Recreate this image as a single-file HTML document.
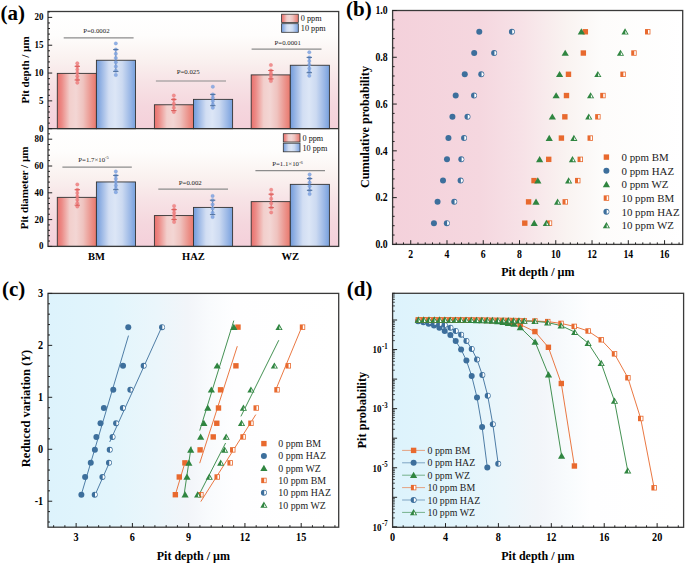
<!DOCTYPE html>
<html><head><meta charset="utf-8"><style>
html,body{margin:0;padding:0;background:#fff;overflow:hidden;width:685px;height:564px;}
svg{display:block;font-family:"Liberation Serif", serif;}
</style></head><body>
<svg width="685" height="564" viewBox="0 0 685 564">
<defs><linearGradient id="gA" x1="0" y1="0" x2="0" y2="1"><stop offset="0" stop-color="#ffffff"/><stop offset="0.2" stop-color="#fefdfc"/><stop offset="0.4" stop-color="#faf2f0"/><stop offset="0.6" stop-color="#f7e3e6"/><stop offset="0.8" stop-color="#f5d7de"/><stop offset="1" stop-color="#f4d0da"/></linearGradient><linearGradient id="gRed" x1="0" y1="0" x2="1" y2="0"><stop offset="0" stop-color="#ea6f6c"/><stop offset="0.12" stop-color="#ec8c88"/><stop offset="0.32" stop-color="#f2cfcc"/><stop offset="0.48" stop-color="#f3d6d4"/><stop offset="0.66" stop-color="#efc3bf"/><stop offset="0.88" stop-color="#eb9088"/><stop offset="1" stop-color="#e9786c"/></linearGradient><linearGradient id="gBlue" x1="0" y1="0" x2="1" y2="0"><stop offset="0" stop-color="#719bdb"/><stop offset="0.12" stop-color="#96b4e4"/><stop offset="0.32" stop-color="#d2def3"/><stop offset="0.48" stop-color="#dce6f6"/><stop offset="0.66" stop-color="#ccdaf1"/><stop offset="0.88" stop-color="#97b5e5"/><stop offset="1" stop-color="#76a0dd"/></linearGradient><linearGradient id="gB" x1="0" y1="0" x2="1" y2="0"><stop offset="0" stop-color="#f4d1db"/><stop offset="0.3" stop-color="#f5d7df"/><stop offset="0.45" stop-color="#f7e2e7"/><stop offset="0.6" stop-color="#f9f3f1"/><stop offset="0.72" stop-color="#fdfcfb"/><stop offset="1" stop-color="#ffffff"/></linearGradient><linearGradient id="gC" x1="0" y1="0" x2="1" y2="0"><stop offset="0" stop-color="#ddf3fc"/><stop offset="0.22" stop-color="#e2f5fc"/><stop offset="0.38" stop-color="#ebf6fb"/><stop offset="0.48" stop-color="#f2f5f9"/><stop offset="0.56" stop-color="#f9fbfd"/><stop offset="0.64" stop-color="#fefeff"/><stop offset="1" stop-color="#ffffff"/></linearGradient><linearGradient id="gD" x1="0" y1="0" x2="1" y2="0"><stop offset="0" stop-color="#ddf3fc"/><stop offset="0.22" stop-color="#e2f5fc"/><stop offset="0.38" stop-color="#ebf6fb"/><stop offset="0.5" stop-color="#f2f5f9"/><stop offset="0.6" stop-color="#f8fbfd"/><stop offset="0.68" stop-color="#fefeff"/><stop offset="1" stop-color="#ffffff"/></linearGradient></defs>
<rect x="48.0" y="11.5" width="290.7" height="117.19999999999999" fill="url(#gA)"/>
<rect x="48.0" y="128.7" width="290.7" height="117.70000000000002" fill="url(#gA)"/>
<rect x="57.30" y="73.38" width="39.10" height="55.32" fill="url(#gRed)" stroke="#333" stroke-width="0.9"/>
<rect x="96.40" y="60.25" width="39.10" height="68.45" fill="url(#gBlue)" stroke="#333" stroke-width="0.9"/>
<rect x="57.30" y="197.36" width="39.10" height="49.04" fill="url(#gRed)" stroke="#333" stroke-width="0.9"/>
<rect x="96.40" y="181.95" width="39.10" height="64.45" fill="url(#gBlue)" stroke="#333" stroke-width="0.9"/>
<rect x="154.40" y="104.77" width="39.10" height="23.93" fill="url(#gRed)" stroke="#333" stroke-width="0.9"/>
<rect x="193.50" y="99.37" width="39.10" height="29.33" fill="url(#gBlue)" stroke="#333" stroke-width="0.9"/>
<rect x="154.40" y="215.58" width="39.10" height="30.82" fill="url(#gRed)" stroke="#333" stroke-width="0.9"/>
<rect x="193.50" y="207.41" width="39.10" height="38.99" fill="url(#gBlue)" stroke="#333" stroke-width="0.9"/>
<rect x="251.20" y="74.89" width="39.10" height="53.81" fill="url(#gRed)" stroke="#333" stroke-width="0.9"/>
<rect x="290.30" y="65.26" width="39.10" height="63.44" fill="url(#gBlue)" stroke="#333" stroke-width="0.9"/>
<rect x="251.20" y="201.64" width="39.10" height="44.76" fill="url(#gRed)" stroke="#333" stroke-width="0.9"/>
<rect x="290.30" y="184.36" width="39.10" height="62.04" fill="url(#gBlue)" stroke="#333" stroke-width="0.9"/>
<line x1="77.30" y1="66.30" x2="77.30" y2="80.00" stroke="#d95b58" stroke-width="0.8" />
<circle cx="77.30" cy="63.30" r="1.75" fill="#ee8080" fill-opacity="0.85" stroke="#e06060" stroke-width="0.35" stroke-opacity="0.6"/>
<circle cx="77.30" cy="66.30" r="1.75" fill="#ee8080" fill-opacity="0.85" stroke="#e06060" stroke-width="0.35" stroke-opacity="0.6"/>
<circle cx="77.30" cy="69.58" r="1.75" fill="#ee8080" fill-opacity="0.85" stroke="#e06060" stroke-width="0.35" stroke-opacity="0.6"/>
<circle cx="77.30" cy="72.86" r="1.75" fill="#ee8080" fill-opacity="0.85" stroke="#e06060" stroke-width="0.35" stroke-opacity="0.6"/>
<circle cx="77.30" cy="76.14" r="1.75" fill="#ee8080" fill-opacity="0.85" stroke="#e06060" stroke-width="0.35" stroke-opacity="0.6"/>
<circle cx="77.30" cy="79.42" r="1.75" fill="#ee8080" fill-opacity="0.85" stroke="#e06060" stroke-width="0.35" stroke-opacity="0.6"/>
<circle cx="77.30" cy="82.70" r="1.75" fill="#ee8080" fill-opacity="0.85" stroke="#e06060" stroke-width="0.35" stroke-opacity="0.6"/>
<line x1="74.60" y1="66.30" x2="80.00" y2="66.30" stroke="#d95b58" stroke-width="1.0" />
<line x1="74.60" y1="80.00" x2="80.00" y2="80.00" stroke="#d95b58" stroke-width="1.0" />
<line x1="115.80" y1="49.60" x2="115.80" y2="71.40" stroke="#4f709c" stroke-width="0.8" />
<circle cx="115.80" cy="43.40" r="1.75" fill="#7fa3e2" fill-opacity="0.85" stroke="#5a86cc" stroke-width="0.35" stroke-opacity="0.6"/>
<circle cx="115.80" cy="49.60" r="1.75" fill="#7fa3e2" fill-opacity="0.85" stroke="#5a86cc" stroke-width="0.35" stroke-opacity="0.6"/>
<circle cx="115.80" cy="53.83" r="1.75" fill="#7fa3e2" fill-opacity="0.85" stroke="#5a86cc" stroke-width="0.35" stroke-opacity="0.6"/>
<circle cx="115.80" cy="58.07" r="1.75" fill="#7fa3e2" fill-opacity="0.85" stroke="#5a86cc" stroke-width="0.35" stroke-opacity="0.6"/>
<circle cx="115.80" cy="62.30" r="1.75" fill="#7fa3e2" fill-opacity="0.85" stroke="#5a86cc" stroke-width="0.35" stroke-opacity="0.6"/>
<circle cx="115.80" cy="66.53" r="1.75" fill="#7fa3e2" fill-opacity="0.85" stroke="#5a86cc" stroke-width="0.35" stroke-opacity="0.6"/>
<circle cx="115.80" cy="70.77" r="1.75" fill="#7fa3e2" fill-opacity="0.85" stroke="#5a86cc" stroke-width="0.35" stroke-opacity="0.6"/>
<circle cx="115.80" cy="75.00" r="1.75" fill="#7fa3e2" fill-opacity="0.85" stroke="#5a86cc" stroke-width="0.35" stroke-opacity="0.6"/>
<line x1="113.10" y1="49.60" x2="118.50" y2="49.60" stroke="#4f709c" stroke-width="1.0" />
<line x1="113.10" y1="71.40" x2="118.50" y2="71.40" stroke="#4f709c" stroke-width="1.0" />
<line x1="173.80" y1="99.40" x2="173.80" y2="110.60" stroke="#d95b58" stroke-width="0.8" />
<circle cx="173.80" cy="95.50" r="1.75" fill="#ee8080" fill-opacity="0.85" stroke="#e06060" stroke-width="0.35" stroke-opacity="0.6"/>
<circle cx="173.80" cy="99.60" r="1.75" fill="#ee8080" fill-opacity="0.85" stroke="#e06060" stroke-width="0.35" stroke-opacity="0.6"/>
<circle cx="173.80" cy="103.70" r="1.75" fill="#ee8080" fill-opacity="0.85" stroke="#e06060" stroke-width="0.35" stroke-opacity="0.6"/>
<circle cx="173.80" cy="107.80" r="1.75" fill="#ee8080" fill-opacity="0.85" stroke="#e06060" stroke-width="0.35" stroke-opacity="0.6"/>
<circle cx="173.80" cy="111.90" r="1.75" fill="#ee8080" fill-opacity="0.85" stroke="#e06060" stroke-width="0.35" stroke-opacity="0.6"/>
<line x1="171.10" y1="99.40" x2="176.50" y2="99.40" stroke="#d95b58" stroke-width="1.0" />
<line x1="171.10" y1="110.60" x2="176.50" y2="110.60" stroke="#d95b58" stroke-width="1.0" />
<line x1="212.80" y1="94.40" x2="212.80" y2="105.70" stroke="#4f709c" stroke-width="0.8" />
<circle cx="212.80" cy="86.70" r="1.75" fill="#7fa3e2" fill-opacity="0.85" stroke="#5a86cc" stroke-width="0.35" stroke-opacity="0.6"/>
<circle cx="212.80" cy="94.40" r="1.75" fill="#7fa3e2" fill-opacity="0.85" stroke="#5a86cc" stroke-width="0.35" stroke-opacity="0.6"/>
<circle cx="212.80" cy="97.75" r="1.75" fill="#7fa3e2" fill-opacity="0.85" stroke="#5a86cc" stroke-width="0.35" stroke-opacity="0.6"/>
<circle cx="212.80" cy="101.10" r="1.75" fill="#7fa3e2" fill-opacity="0.85" stroke="#5a86cc" stroke-width="0.35" stroke-opacity="0.6"/>
<circle cx="212.80" cy="104.45" r="1.75" fill="#7fa3e2" fill-opacity="0.85" stroke="#5a86cc" stroke-width="0.35" stroke-opacity="0.6"/>
<circle cx="212.80" cy="107.80" r="1.75" fill="#7fa3e2" fill-opacity="0.85" stroke="#5a86cc" stroke-width="0.35" stroke-opacity="0.6"/>
<line x1="210.10" y1="94.40" x2="215.50" y2="94.40" stroke="#4f709c" stroke-width="1.0" />
<line x1="210.10" y1="105.70" x2="215.50" y2="105.70" stroke="#4f709c" stroke-width="1.0" />
<line x1="270.90" y1="70.50" x2="270.90" y2="78.90" stroke="#d95b58" stroke-width="0.8" />
<circle cx="270.90" cy="65.10" r="1.75" fill="#ee8080" fill-opacity="0.85" stroke="#e06060" stroke-width="0.35" stroke-opacity="0.6"/>
<circle cx="270.90" cy="70.50" r="1.75" fill="#ee8080" fill-opacity="0.85" stroke="#e06060" stroke-width="0.35" stroke-opacity="0.6"/>
<circle cx="270.90" cy="73.15" r="1.75" fill="#ee8080" fill-opacity="0.85" stroke="#e06060" stroke-width="0.35" stroke-opacity="0.6"/>
<circle cx="270.90" cy="75.80" r="1.75" fill="#ee8080" fill-opacity="0.85" stroke="#e06060" stroke-width="0.35" stroke-opacity="0.6"/>
<circle cx="270.90" cy="78.45" r="1.75" fill="#ee8080" fill-opacity="0.85" stroke="#e06060" stroke-width="0.35" stroke-opacity="0.6"/>
<circle cx="270.90" cy="81.10" r="1.75" fill="#ee8080" fill-opacity="0.85" stroke="#e06060" stroke-width="0.35" stroke-opacity="0.6"/>
<line x1="268.20" y1="70.50" x2="273.60" y2="70.50" stroke="#d95b58" stroke-width="1.0" />
<line x1="268.20" y1="78.90" x2="273.60" y2="78.90" stroke="#d95b58" stroke-width="1.0" />
<line x1="309.30" y1="57.40" x2="309.30" y2="72.70" stroke="#4f709c" stroke-width="0.8" />
<circle cx="309.30" cy="52.30" r="1.75" fill="#7fa3e2" fill-opacity="0.85" stroke="#5a86cc" stroke-width="0.35" stroke-opacity="0.6"/>
<circle cx="309.30" cy="57.40" r="1.75" fill="#7fa3e2" fill-opacity="0.85" stroke="#5a86cc" stroke-width="0.35" stroke-opacity="0.6"/>
<circle cx="309.30" cy="61.08" r="1.75" fill="#7fa3e2" fill-opacity="0.85" stroke="#5a86cc" stroke-width="0.35" stroke-opacity="0.6"/>
<circle cx="309.30" cy="64.76" r="1.75" fill="#7fa3e2" fill-opacity="0.85" stroke="#5a86cc" stroke-width="0.35" stroke-opacity="0.6"/>
<circle cx="309.30" cy="68.44" r="1.75" fill="#7fa3e2" fill-opacity="0.85" stroke="#5a86cc" stroke-width="0.35" stroke-opacity="0.6"/>
<circle cx="309.30" cy="72.12" r="1.75" fill="#7fa3e2" fill-opacity="0.85" stroke="#5a86cc" stroke-width="0.35" stroke-opacity="0.6"/>
<circle cx="309.30" cy="75.80" r="1.75" fill="#7fa3e2" fill-opacity="0.85" stroke="#5a86cc" stroke-width="0.35" stroke-opacity="0.6"/>
<line x1="306.60" y1="57.40" x2="312.00" y2="57.40" stroke="#4f709c" stroke-width="1.0" />
<line x1="306.60" y1="72.70" x2="312.00" y2="72.70" stroke="#4f709c" stroke-width="1.0" />
<line x1="77.30" y1="189.70" x2="77.30" y2="205.20" stroke="#d95b58" stroke-width="0.8" />
<circle cx="77.30" cy="184.40" r="1.75" fill="#ee8080" fill-opacity="0.85" stroke="#e06060" stroke-width="0.35" stroke-opacity="0.6"/>
<circle cx="77.30" cy="189.70" r="1.75" fill="#ee8080" fill-opacity="0.85" stroke="#e06060" stroke-width="0.35" stroke-opacity="0.6"/>
<circle cx="77.30" cy="193.06" r="1.75" fill="#ee8080" fill-opacity="0.85" stroke="#e06060" stroke-width="0.35" stroke-opacity="0.6"/>
<circle cx="77.30" cy="196.42" r="1.75" fill="#ee8080" fill-opacity="0.85" stroke="#e06060" stroke-width="0.35" stroke-opacity="0.6"/>
<circle cx="77.30" cy="199.78" r="1.75" fill="#ee8080" fill-opacity="0.85" stroke="#e06060" stroke-width="0.35" stroke-opacity="0.6"/>
<circle cx="77.30" cy="203.14" r="1.75" fill="#ee8080" fill-opacity="0.85" stroke="#e06060" stroke-width="0.35" stroke-opacity="0.6"/>
<circle cx="77.30" cy="206.50" r="1.75" fill="#ee8080" fill-opacity="0.85" stroke="#e06060" stroke-width="0.35" stroke-opacity="0.6"/>
<line x1="74.60" y1="189.70" x2="80.00" y2="189.70" stroke="#d95b58" stroke-width="1.0" />
<line x1="74.60" y1="205.20" x2="80.00" y2="205.20" stroke="#d95b58" stroke-width="1.0" />
<line x1="115.80" y1="175.40" x2="115.80" y2="189.70" stroke="#4f709c" stroke-width="0.8" />
<circle cx="115.80" cy="171.40" r="1.75" fill="#7fa3e2" fill-opacity="0.85" stroke="#5a86cc" stroke-width="0.35" stroke-opacity="0.6"/>
<circle cx="115.80" cy="175.40" r="1.75" fill="#7fa3e2" fill-opacity="0.85" stroke="#5a86cc" stroke-width="0.35" stroke-opacity="0.6"/>
<circle cx="115.80" cy="178.76" r="1.75" fill="#7fa3e2" fill-opacity="0.85" stroke="#5a86cc" stroke-width="0.35" stroke-opacity="0.6"/>
<circle cx="115.80" cy="182.12" r="1.75" fill="#7fa3e2" fill-opacity="0.85" stroke="#5a86cc" stroke-width="0.35" stroke-opacity="0.6"/>
<circle cx="115.80" cy="185.48" r="1.75" fill="#7fa3e2" fill-opacity="0.85" stroke="#5a86cc" stroke-width="0.35" stroke-opacity="0.6"/>
<circle cx="115.80" cy="188.84" r="1.75" fill="#7fa3e2" fill-opacity="0.85" stroke="#5a86cc" stroke-width="0.35" stroke-opacity="0.6"/>
<circle cx="115.80" cy="192.20" r="1.75" fill="#7fa3e2" fill-opacity="0.85" stroke="#5a86cc" stroke-width="0.35" stroke-opacity="0.6"/>
<line x1="113.10" y1="175.40" x2="118.50" y2="175.40" stroke="#4f709c" stroke-width="1.0" />
<line x1="113.10" y1="189.70" x2="118.50" y2="189.70" stroke="#4f709c" stroke-width="1.0" />
<line x1="174.10" y1="209.60" x2="174.10" y2="219.60" stroke="#d95b58" stroke-width="0.8" />
<circle cx="174.10" cy="205.90" r="1.75" fill="#ee8080" fill-opacity="0.85" stroke="#e06060" stroke-width="0.35" stroke-opacity="0.6"/>
<circle cx="174.10" cy="209.60" r="1.75" fill="#ee8080" fill-opacity="0.85" stroke="#e06060" stroke-width="0.35" stroke-opacity="0.6"/>
<circle cx="174.10" cy="212.70" r="1.75" fill="#ee8080" fill-opacity="0.85" stroke="#e06060" stroke-width="0.35" stroke-opacity="0.6"/>
<circle cx="174.10" cy="215.80" r="1.75" fill="#ee8080" fill-opacity="0.85" stroke="#e06060" stroke-width="0.35" stroke-opacity="0.6"/>
<circle cx="174.10" cy="218.90" r="1.75" fill="#ee8080" fill-opacity="0.85" stroke="#e06060" stroke-width="0.35" stroke-opacity="0.6"/>
<circle cx="174.10" cy="222.00" r="1.75" fill="#ee8080" fill-opacity="0.85" stroke="#e06060" stroke-width="0.35" stroke-opacity="0.6"/>
<line x1="171.40" y1="209.60" x2="176.80" y2="209.60" stroke="#d95b58" stroke-width="1.0" />
<line x1="171.40" y1="219.60" x2="176.80" y2="219.60" stroke="#d95b58" stroke-width="1.0" />
<line x1="212.60" y1="200.20" x2="212.60" y2="214.60" stroke="#4f709c" stroke-width="0.8" />
<circle cx="212.60" cy="196.00" r="1.75" fill="#7fa3e2" fill-opacity="0.85" stroke="#5a86cc" stroke-width="0.35" stroke-opacity="0.6"/>
<circle cx="212.60" cy="200.20" r="1.75" fill="#7fa3e2" fill-opacity="0.85" stroke="#5a86cc" stroke-width="0.35" stroke-opacity="0.6"/>
<circle cx="212.60" cy="204.40" r="1.75" fill="#7fa3e2" fill-opacity="0.85" stroke="#5a86cc" stroke-width="0.35" stroke-opacity="0.6"/>
<circle cx="212.60" cy="208.60" r="1.75" fill="#7fa3e2" fill-opacity="0.85" stroke="#5a86cc" stroke-width="0.35" stroke-opacity="0.6"/>
<circle cx="212.60" cy="212.80" r="1.75" fill="#7fa3e2" fill-opacity="0.85" stroke="#5a86cc" stroke-width="0.35" stroke-opacity="0.6"/>
<circle cx="212.60" cy="217.00" r="1.75" fill="#7fa3e2" fill-opacity="0.85" stroke="#5a86cc" stroke-width="0.35" stroke-opacity="0.6"/>
<line x1="209.90" y1="200.20" x2="215.30" y2="200.20" stroke="#4f709c" stroke-width="1.0" />
<line x1="209.90" y1="214.60" x2="215.30" y2="214.60" stroke="#4f709c" stroke-width="1.0" />
<line x1="271.20" y1="194.20" x2="271.20" y2="207.60" stroke="#d95b58" stroke-width="0.8" />
<circle cx="271.20" cy="189.80" r="1.75" fill="#ee8080" fill-opacity="0.85" stroke="#e06060" stroke-width="0.35" stroke-opacity="0.6"/>
<circle cx="271.20" cy="194.20" r="1.75" fill="#ee8080" fill-opacity="0.85" stroke="#e06060" stroke-width="0.35" stroke-opacity="0.6"/>
<circle cx="271.20" cy="198.75" r="1.75" fill="#ee8080" fill-opacity="0.85" stroke="#e06060" stroke-width="0.35" stroke-opacity="0.6"/>
<circle cx="271.20" cy="203.30" r="1.75" fill="#ee8080" fill-opacity="0.85" stroke="#e06060" stroke-width="0.35" stroke-opacity="0.6"/>
<circle cx="271.20" cy="207.85" r="1.75" fill="#ee8080" fill-opacity="0.85" stroke="#e06060" stroke-width="0.35" stroke-opacity="0.6"/>
<circle cx="271.20" cy="212.40" r="1.75" fill="#ee8080" fill-opacity="0.85" stroke="#e06060" stroke-width="0.35" stroke-opacity="0.6"/>
<line x1="268.50" y1="194.20" x2="273.90" y2="194.20" stroke="#d95b58" stroke-width="1.0" />
<line x1="268.50" y1="207.60" x2="273.90" y2="207.60" stroke="#d95b58" stroke-width="1.0" />
<line x1="309.60" y1="178.60" x2="309.60" y2="190.30" stroke="#4f709c" stroke-width="0.8" />
<circle cx="309.60" cy="174.40" r="1.75" fill="#7fa3e2" fill-opacity="0.85" stroke="#5a86cc" stroke-width="0.35" stroke-opacity="0.6"/>
<circle cx="309.60" cy="178.60" r="1.75" fill="#7fa3e2" fill-opacity="0.85" stroke="#5a86cc" stroke-width="0.35" stroke-opacity="0.6"/>
<circle cx="309.60" cy="182.45" r="1.75" fill="#7fa3e2" fill-opacity="0.85" stroke="#5a86cc" stroke-width="0.35" stroke-opacity="0.6"/>
<circle cx="309.60" cy="186.30" r="1.75" fill="#7fa3e2" fill-opacity="0.85" stroke="#5a86cc" stroke-width="0.35" stroke-opacity="0.6"/>
<circle cx="309.60" cy="190.15" r="1.75" fill="#7fa3e2" fill-opacity="0.85" stroke="#5a86cc" stroke-width="0.35" stroke-opacity="0.6"/>
<circle cx="309.60" cy="194.00" r="1.75" fill="#7fa3e2" fill-opacity="0.85" stroke="#5a86cc" stroke-width="0.35" stroke-opacity="0.6"/>
<line x1="306.90" y1="178.60" x2="312.30" y2="178.60" stroke="#4f709c" stroke-width="1.0" />
<line x1="306.90" y1="190.30" x2="312.30" y2="190.30" stroke="#4f709c" stroke-width="1.0" />
<line x1="63.70" y1="37.90" x2="133.60" y2="37.90" stroke="#8c8c8c" stroke-width="1.2" />
<text x="96.40" y="32.50" font-size="6.8" font-weight="normal" text-anchor="middle" fill="#1a1a1a" >P=0.0002</text>
<line x1="155.90" y1="81.00" x2="226.00" y2="81.00" stroke="#8c8c8c" stroke-width="1.2" />
<text x="188.20" y="74.20" font-size="6.8" font-weight="normal" text-anchor="middle" fill="#1a1a1a" >P=0.025</text>
<line x1="251.60" y1="49.20" x2="321.50" y2="49.20" stroke="#8c8c8c" stroke-width="1.2" />
<text x="287.70" y="45.00" font-size="6.8" font-weight="normal" text-anchor="middle" fill="#1a1a1a" >P=0.0001</text>
<line x1="62.40" y1="167.20" x2="131.80" y2="167.20" stroke="#8c8c8c" stroke-width="1.2" />
<text x="93.60" y="161.50" font-size="6.8" font-weight="normal" text-anchor="middle" fill="#1a1a1a" >P=1.7×10<tspan dy="-2.5" font-size="4.5">-5</tspan></text>
<line x1="158.30" y1="189.20" x2="228.00" y2="189.20" stroke="#8c8c8c" stroke-width="1.2" />
<text x="190.30" y="184.50" font-size="6.8" font-weight="normal" text-anchor="middle" fill="#1a1a1a" >P=0.002</text>
<line x1="255.40" y1="170.70" x2="325.00" y2="170.70" stroke="#8c8c8c" stroke-width="1.2" />
<text x="287.50" y="166.00" font-size="6.8" font-weight="normal" text-anchor="middle" fill="#1a1a1a" >P=1.1×10<tspan dy="-2.5" font-size="4.5">-6</tspan></text>
<rect x="281.60" y="14.20" width="16.7" height="8.3" fill="url(#gRed)" stroke="#333" stroke-width="0.8"/>
<rect x="281.60" y="23.70" width="16.7" height="8.6" fill="url(#gBlue)" stroke="#333" stroke-width="0.8"/>
<text x="300.80" y="21.20" font-size="8.2" font-weight="normal" text-anchor="start" fill="#111" >0 ppm</text>
<text x="300.80" y="31.00" font-size="8.2" font-weight="normal" text-anchor="start" fill="#111" >10 ppm</text>
<rect x="283.30" y="133.70" width="16.7" height="8.3" fill="url(#gRed)" stroke="#333" stroke-width="0.8"/>
<rect x="283.30" y="143.20" width="16.7" height="8.6" fill="url(#gBlue)" stroke="#333" stroke-width="0.8"/>
<text x="302.50" y="140.70" font-size="8.2" font-weight="normal" text-anchor="start" fill="#111" >0 ppm</text>
<text x="302.50" y="150.50" font-size="8.2" font-weight="normal" text-anchor="start" fill="#111" >10 ppm</text>
<rect x="48.0" y="11.5" width="290.7" height="234.9" fill="none" stroke="#3a3a3a" stroke-width="1.3"/>
<line x1="48.00" y1="128.70" x2="338.70" y2="128.70" stroke="#333" stroke-width="1.3" />
<line x1="48.00" y1="128.70" x2="52.20" y2="128.70" stroke="#222" stroke-width="1" />
<text transform="translate(43.50,131.70) scale(1.0,1.1)" font-size="9" font-weight="bold" text-anchor="end" fill="#000">0</text>
<line x1="48.00" y1="123.13" x2="50.00" y2="123.13" stroke="#222" stroke-width="1" />
<line x1="48.00" y1="117.57" x2="50.00" y2="117.57" stroke="#222" stroke-width="1" />
<line x1="48.00" y1="112.00" x2="50.00" y2="112.00" stroke="#222" stroke-width="1" />
<line x1="48.00" y1="106.44" x2="50.00" y2="106.44" stroke="#222" stroke-width="1" />
<line x1="48.00" y1="100.87" x2="52.20" y2="100.87" stroke="#222" stroke-width="1" />
<text transform="translate(43.50,103.87) scale(1.0,1.1)" font-size="9" font-weight="bold" text-anchor="end" fill="#000">5</text>
<line x1="48.00" y1="95.31" x2="50.00" y2="95.31" stroke="#222" stroke-width="1" />
<line x1="48.00" y1="89.74" x2="50.00" y2="89.74" stroke="#222" stroke-width="1" />
<line x1="48.00" y1="84.18" x2="50.00" y2="84.18" stroke="#222" stroke-width="1" />
<line x1="48.00" y1="78.61" x2="50.00" y2="78.61" stroke="#222" stroke-width="1" />
<line x1="48.00" y1="73.05" x2="52.20" y2="73.05" stroke="#222" stroke-width="1" />
<text transform="translate(43.50,76.05) scale(1.0,1.1)" font-size="9" font-weight="bold" text-anchor="end" fill="#000">10</text>
<line x1="48.00" y1="67.48" x2="50.00" y2="67.48" stroke="#222" stroke-width="1" />
<line x1="48.00" y1="61.92" x2="50.00" y2="61.92" stroke="#222" stroke-width="1" />
<line x1="48.00" y1="56.35" x2="50.00" y2="56.35" stroke="#222" stroke-width="1" />
<line x1="48.00" y1="50.79" x2="50.00" y2="50.79" stroke="#222" stroke-width="1" />
<line x1="48.00" y1="45.22" x2="52.20" y2="45.22" stroke="#222" stroke-width="1" />
<text transform="translate(43.50,48.22) scale(1.0,1.1)" font-size="9" font-weight="bold" text-anchor="end" fill="#000">15</text>
<line x1="48.00" y1="39.66" x2="50.00" y2="39.66" stroke="#222" stroke-width="1" />
<line x1="48.00" y1="34.09" x2="50.00" y2="34.09" stroke="#222" stroke-width="1" />
<line x1="48.00" y1="28.53" x2="50.00" y2="28.53" stroke="#222" stroke-width="1" />
<line x1="48.00" y1="22.96" x2="50.00" y2="22.96" stroke="#222" stroke-width="1" />
<line x1="48.00" y1="17.40" x2="52.20" y2="17.40" stroke="#222" stroke-width="1" />
<text transform="translate(43.50,20.40) scale(1.0,1.1)" font-size="9" font-weight="bold" text-anchor="end" fill="#000">20</text>
<line x1="48.00" y1="11.83" x2="50.00" y2="11.83" stroke="#222" stroke-width="1" />
<line x1="48.00" y1="246.40" x2="52.20" y2="246.40" stroke="#222" stroke-width="1" />
<text transform="translate(43.50,249.40) scale(1.0,1.1)" font-size="9" font-weight="bold" text-anchor="end" fill="#000">0</text>
<line x1="48.00" y1="241.04" x2="50.00" y2="241.04" stroke="#222" stroke-width="1" />
<line x1="48.00" y1="235.68" x2="50.00" y2="235.68" stroke="#222" stroke-width="1" />
<line x1="48.00" y1="230.32" x2="50.00" y2="230.32" stroke="#222" stroke-width="1" />
<line x1="48.00" y1="224.96" x2="50.00" y2="224.96" stroke="#222" stroke-width="1" />
<line x1="48.00" y1="219.60" x2="52.20" y2="219.60" stroke="#222" stroke-width="1" />
<text transform="translate(43.50,222.60) scale(1.0,1.1)" font-size="9" font-weight="bold" text-anchor="end" fill="#000">20</text>
<line x1="48.00" y1="214.24" x2="50.00" y2="214.24" stroke="#222" stroke-width="1" />
<line x1="48.00" y1="208.88" x2="50.00" y2="208.88" stroke="#222" stroke-width="1" />
<line x1="48.00" y1="203.52" x2="50.00" y2="203.52" stroke="#222" stroke-width="1" />
<line x1="48.00" y1="198.16" x2="50.00" y2="198.16" stroke="#222" stroke-width="1" />
<line x1="48.00" y1="192.80" x2="52.20" y2="192.80" stroke="#222" stroke-width="1" />
<text transform="translate(43.50,195.80) scale(1.0,1.1)" font-size="9" font-weight="bold" text-anchor="end" fill="#000">40</text>
<line x1="48.00" y1="187.44" x2="50.00" y2="187.44" stroke="#222" stroke-width="1" />
<line x1="48.00" y1="182.08" x2="50.00" y2="182.08" stroke="#222" stroke-width="1" />
<line x1="48.00" y1="176.72" x2="50.00" y2="176.72" stroke="#222" stroke-width="1" />
<line x1="48.00" y1="171.36" x2="50.00" y2="171.36" stroke="#222" stroke-width="1" />
<line x1="48.00" y1="166.00" x2="52.20" y2="166.00" stroke="#222" stroke-width="1" />
<text transform="translate(43.50,169.00) scale(1.0,1.1)" font-size="9" font-weight="bold" text-anchor="end" fill="#000">60</text>
<line x1="48.00" y1="160.64" x2="50.00" y2="160.64" stroke="#222" stroke-width="1" />
<line x1="48.00" y1="155.28" x2="50.00" y2="155.28" stroke="#222" stroke-width="1" />
<line x1="48.00" y1="149.92" x2="50.00" y2="149.92" stroke="#222" stroke-width="1" />
<line x1="48.00" y1="144.56" x2="50.00" y2="144.56" stroke="#222" stroke-width="1" />
<line x1="48.00" y1="139.20" x2="52.20" y2="139.20" stroke="#222" stroke-width="1" />
<text transform="translate(43.50,142.20) scale(1.0,1.1)" font-size="9" font-weight="bold" text-anchor="end" fill="#000">80</text>
<line x1="48.00" y1="133.84" x2="50.00" y2="133.84" stroke="#222" stroke-width="1" />
<line x1="48.00" y1="128.48" x2="50.00" y2="128.48" stroke="#222" stroke-width="1" />
<text transform="translate(29.10,70.00) rotate(-90)" font-size="11.0" font-weight="bold" text-anchor="middle" fill="#000">Pit depth / µm</text>
<text transform="translate(27.50,187.90) rotate(-90)" font-size="11.1" font-weight="bold" text-anchor="middle" fill="#000">Pit diameter / µm</text>
<text x="96.40" y="260.00" font-size="10.5" font-weight="bold" text-anchor="middle" fill="#000" >BM</text>
<text x="193.50" y="260.00" font-size="10.5" font-weight="bold" text-anchor="middle" fill="#000" >HAZ</text>
<text x="290.30" y="260.00" font-size="10.5" font-weight="bold" text-anchor="middle" fill="#000" >WZ</text>
<text transform="translate(0.40,19.80) scale(1.0,1.0)" font-size="21.0" font-weight="bold" text-anchor="start" fill="#000">(a)</text>
<rect x="392.6" y="10.5" width="290.1" height="233.9" fill="url(#gB)"/>
<circle cx="433.94" cy="223.14" r="3.0" fill="#3d6f9c"/>
<circle cx="437.57" cy="201.87" r="3.0" fill="#3d6f9c"/>
<circle cx="443.00" cy="180.61" r="3.0" fill="#3d6f9c"/>
<circle cx="446.99" cy="159.35" r="3.0" fill="#3d6f9c"/>
<circle cx="448.44" cy="138.08" r="3.0" fill="#3d6f9c"/>
<circle cx="452.43" cy="116.82" r="3.0" fill="#3d6f9c"/>
<circle cx="455.70" cy="95.55" r="3.0" fill="#3d6f9c"/>
<circle cx="464.76" cy="74.29" r="3.0" fill="#3d6f9c"/>
<circle cx="474.19" cy="53.03" r="3.0" fill="#3d6f9c"/>
<circle cx="479.27" cy="31.76" r="3.0" fill="#3d6f9c"/>
<circle cx="446.81" cy="223.14" r="3.0" fill="#3d6f9c"/>
<path d="M447.11,221.04 A2.1,2.1 0 0 1 447.11,225.24 Z" fill="#fff"/>
<circle cx="454.25" cy="201.87" r="3.0" fill="#3d6f9c"/>
<path d="M454.55,199.77 A2.1,2.1 0 0 1 454.55,203.97 Z" fill="#fff"/>
<circle cx="460.59" cy="180.61" r="3.0" fill="#3d6f9c"/>
<path d="M460.89,178.51 A2.1,2.1 0 0 1 460.89,182.71 Z" fill="#fff"/>
<circle cx="461.32" cy="159.35" r="3.0" fill="#3d6f9c"/>
<path d="M461.62,157.25 A2.1,2.1 0 0 1 461.62,161.45 Z" fill="#fff"/>
<circle cx="464.04" cy="138.08" r="3.0" fill="#3d6f9c"/>
<path d="M464.34,135.98 A2.1,2.1 0 0 1 464.34,140.18 Z" fill="#fff"/>
<circle cx="467.48" cy="116.82" r="3.0" fill="#3d6f9c"/>
<path d="M467.78,114.72 A2.1,2.1 0 0 1 467.78,118.92 Z" fill="#fff"/>
<circle cx="474.01" cy="95.55" r="3.0" fill="#3d6f9c"/>
<path d="M474.31,93.45 A2.1,2.1 0 0 1 474.31,97.65 Z" fill="#fff"/>
<circle cx="481.26" cy="74.29" r="3.0" fill="#3d6f9c"/>
<path d="M481.56,72.19 A2.1,2.1 0 0 1 481.56,76.39 Z" fill="#fff"/>
<circle cx="494.13" cy="53.03" r="3.0" fill="#3d6f9c"/>
<path d="M494.44,50.93 A2.1,2.1 0 0 1 494.44,55.13 Z" fill="#fff"/>
<circle cx="511.90" cy="31.76" r="3.0" fill="#3d6f9c"/>
<path d="M512.20,29.66 A2.1,2.1 0 0 1 512.20,33.86 Z" fill="#fff"/>
<rect x="522.08" y="220.44" width="5.40" height="5.40" fill="#e8692e"/>
<rect x="525.88" y="199.17" width="5.40" height="5.40" fill="#e8692e"/>
<rect x="531.32" y="177.91" width="5.40" height="5.40" fill="#e8692e"/>
<rect x="546.01" y="156.65" width="5.40" height="5.40" fill="#e8692e"/>
<rect x="558.70" y="135.38" width="5.40" height="5.40" fill="#e8692e"/>
<rect x="562.15" y="114.12" width="5.40" height="5.40" fill="#e8692e"/>
<rect x="563.78" y="92.85" width="5.40" height="5.40" fill="#e8692e"/>
<rect x="565.77" y="71.59" width="5.40" height="5.40" fill="#e8692e"/>
<rect x="580.64" y="50.33" width="5.40" height="5.40" fill="#e8692e"/>
<rect x="582.64" y="29.06" width="5.40" height="5.40" fill="#e8692e"/>
<path d="M534.21,219.74 L537.81,225.94 L530.61,225.94 Z" fill="#2f8540"/>
<path d="M536.02,198.47 L539.62,204.67 L532.42,204.67 Z" fill="#2f8540"/>
<path d="M537.83,177.21 L541.43,183.41 L534.23,183.41 Z" fill="#2f8540"/>
<path d="M539.64,155.95 L543.24,162.15 L536.04,162.15 Z" fill="#2f8540"/>
<path d="M549.25,134.68 L552.85,140.88 L545.65,140.88 Z" fill="#2f8540"/>
<path d="M552.34,113.42 L555.94,119.62 L548.74,119.62 Z" fill="#2f8540"/>
<path d="M556.14,92.15 L559.74,98.35 L552.54,98.35 Z" fill="#2f8540"/>
<path d="M559.59,70.89 L563.19,77.09 L555.99,77.09 Z" fill="#2f8540"/>
<path d="M565.21,49.63 L568.81,55.83 L561.61,55.83 Z" fill="#2f8540"/>
<path d="M581.35,28.36 L584.95,34.56 L577.75,34.56 Z" fill="#2f8540"/>
<rect x="546.74" y="220.44" width="5.40" height="5.40" fill="#e8692e"/>
<rect x="549.74" y="221.24" width="1.60" height="3.80" fill="#fff"/>
<rect x="562.51" y="199.17" width="5.40" height="5.40" fill="#e8692e"/>
<rect x="565.51" y="199.97" width="1.60" height="3.80" fill="#fff"/>
<rect x="575.02" y="177.91" width="5.40" height="5.40" fill="#e8692e"/>
<rect x="578.02" y="178.71" width="1.60" height="3.80" fill="#fff"/>
<rect x="577.56" y="156.65" width="5.40" height="5.40" fill="#e8692e"/>
<rect x="580.56" y="157.45" width="1.60" height="3.80" fill="#fff"/>
<rect x="587.53" y="135.38" width="5.40" height="5.40" fill="#e8692e"/>
<rect x="590.53" y="136.18" width="1.60" height="3.80" fill="#fff"/>
<rect x="595.15" y="114.12" width="5.40" height="5.40" fill="#e8692e"/>
<rect x="598.15" y="114.92" width="1.60" height="3.80" fill="#fff"/>
<rect x="600.22" y="92.85" width="5.40" height="5.40" fill="#e8692e"/>
<rect x="603.22" y="93.65" width="1.60" height="3.80" fill="#fff"/>
<rect x="620.35" y="71.59" width="5.40" height="5.40" fill="#e8692e"/>
<rect x="623.35" y="72.39" width="1.60" height="3.80" fill="#fff"/>
<rect x="631.23" y="50.33" width="5.40" height="5.40" fill="#e8692e"/>
<rect x="634.23" y="51.13" width="1.60" height="3.80" fill="#fff"/>
<rect x="645.01" y="29.06" width="5.40" height="5.40" fill="#e8692e"/>
<rect x="648.01" y="29.86" width="1.60" height="3.80" fill="#fff"/>
<path d="M546.35,219.74 L549.95,225.94 L542.75,225.94 Z" fill="#2f8540"/>
<path d="M546.65,221.94 L548.45,225.14 L546.65,225.14 Z" fill="#fff"/>
<path d="M557.59,198.47 L561.19,204.67 L553.99,204.67 Z" fill="#2f8540"/>
<path d="M557.89,200.67 L559.69,203.87 L557.89,203.87 Z" fill="#fff"/>
<path d="M568.65,177.21 L572.25,183.41 L565.05,183.41 Z" fill="#2f8540"/>
<path d="M568.95,179.41 L570.75,182.61 L568.95,182.61 Z" fill="#fff"/>
<path d="M572.46,155.95 L576.06,162.15 L568.86,162.15 Z" fill="#2f8540"/>
<path d="M572.76,158.15 L574.56,161.35 L572.76,161.35 Z" fill="#fff"/>
<path d="M573.91,134.68 L577.51,140.88 L570.31,140.88 Z" fill="#2f8540"/>
<path d="M574.21,136.88 L576.01,140.08 L574.21,140.08 Z" fill="#fff"/>
<path d="M588.78,113.42 L592.38,119.62 L585.18,119.62 Z" fill="#2f8540"/>
<path d="M589.08,115.62 L590.88,118.82 L589.08,118.82 Z" fill="#fff"/>
<path d="M590.59,92.15 L594.19,98.35 L586.99,98.35 Z" fill="#2f8540"/>
<path d="M590.89,94.35 L592.69,97.55 L590.89,97.55 Z" fill="#fff"/>
<path d="M597.85,70.89 L601.45,77.09 L594.25,77.09 Z" fill="#2f8540"/>
<path d="M598.15,73.09 L599.95,76.29 L598.15,76.29 Z" fill="#fff"/>
<path d="M620.51,49.63 L624.11,55.83 L616.91,55.83 Z" fill="#2f8540"/>
<path d="M620.81,51.83 L622.61,55.03 L620.81,55.03 Z" fill="#fff"/>
<path d="M625.04,28.36 L628.64,34.56 L621.44,34.56 Z" fill="#2f8540"/>
<path d="M625.34,30.56 L627.14,33.76 L625.34,33.76 Z" fill="#fff"/>
<rect x="392.6" y="10.5" width="290.1" height="233.9" fill="none" stroke="#3a3a3a" stroke-width="1.3"/>
<line x1="392.60" y1="244.40" x2="396.80" y2="244.40" stroke="#222" stroke-width="1" />
<text transform="translate(387.60,248.10) scale(1.0,1.2)" font-size="9.7" font-weight="bold" text-anchor="end" fill="#000">0.0</text>
<line x1="392.60" y1="235.04" x2="394.60" y2="235.04" stroke="#222" stroke-width="1" />
<line x1="392.60" y1="225.69" x2="394.60" y2="225.69" stroke="#222" stroke-width="1" />
<line x1="392.60" y1="216.33" x2="394.60" y2="216.33" stroke="#222" stroke-width="1" />
<line x1="392.60" y1="206.98" x2="394.60" y2="206.98" stroke="#222" stroke-width="1" />
<line x1="392.60" y1="197.62" x2="396.80" y2="197.62" stroke="#222" stroke-width="1" />
<text transform="translate(387.60,201.32) scale(1.0,1.2)" font-size="9.7" font-weight="bold" text-anchor="end" fill="#000">0.2</text>
<line x1="392.60" y1="188.26" x2="394.60" y2="188.26" stroke="#222" stroke-width="1" />
<line x1="392.60" y1="178.91" x2="394.60" y2="178.91" stroke="#222" stroke-width="1" />
<line x1="392.60" y1="169.55" x2="394.60" y2="169.55" stroke="#222" stroke-width="1" />
<line x1="392.60" y1="160.20" x2="394.60" y2="160.20" stroke="#222" stroke-width="1" />
<line x1="392.60" y1="150.84" x2="396.80" y2="150.84" stroke="#222" stroke-width="1" />
<text transform="translate(387.60,154.54) scale(1.0,1.2)" font-size="9.7" font-weight="bold" text-anchor="end" fill="#000">0.4</text>
<line x1="392.60" y1="141.48" x2="394.60" y2="141.48" stroke="#222" stroke-width="1" />
<line x1="392.60" y1="132.13" x2="394.60" y2="132.13" stroke="#222" stroke-width="1" />
<line x1="392.60" y1="122.77" x2="394.60" y2="122.77" stroke="#222" stroke-width="1" />
<line x1="392.60" y1="113.42" x2="394.60" y2="113.42" stroke="#222" stroke-width="1" />
<line x1="392.60" y1="104.06" x2="396.80" y2="104.06" stroke="#222" stroke-width="1" />
<text transform="translate(387.60,107.76) scale(1.0,1.2)" font-size="9.7" font-weight="bold" text-anchor="end" fill="#000">0.6</text>
<line x1="392.60" y1="94.70" x2="394.60" y2="94.70" stroke="#222" stroke-width="1" />
<line x1="392.60" y1="85.35" x2="394.60" y2="85.35" stroke="#222" stroke-width="1" />
<line x1="392.60" y1="75.99" x2="394.60" y2="75.99" stroke="#222" stroke-width="1" />
<line x1="392.60" y1="66.64" x2="394.60" y2="66.64" stroke="#222" stroke-width="1" />
<line x1="392.60" y1="57.28" x2="396.80" y2="57.28" stroke="#222" stroke-width="1" />
<text transform="translate(387.60,60.98) scale(1.0,1.2)" font-size="9.7" font-weight="bold" text-anchor="end" fill="#000">0.8</text>
<line x1="392.60" y1="47.92" x2="394.60" y2="47.92" stroke="#222" stroke-width="1" />
<line x1="392.60" y1="38.57" x2="394.60" y2="38.57" stroke="#222" stroke-width="1" />
<line x1="392.60" y1="29.21" x2="394.60" y2="29.21" stroke="#222" stroke-width="1" />
<line x1="392.60" y1="19.86" x2="394.60" y2="19.86" stroke="#222" stroke-width="1" />
<line x1="392.60" y1="10.50" x2="396.80" y2="10.50" stroke="#222" stroke-width="1" />
<text transform="translate(387.60,14.20) scale(1.0,1.2)" font-size="9.7" font-weight="bold" text-anchor="end" fill="#000">1.0</text>
<line x1="396.23" y1="244.40" x2="396.23" y2="242.40" stroke="#222" stroke-width="1" />
<line x1="403.48" y1="244.40" x2="403.48" y2="242.40" stroke="#222" stroke-width="1" />
<line x1="410.73" y1="244.40" x2="410.73" y2="240.20" stroke="#222" stroke-width="1" />
<text transform="translate(410.73,257.60) scale(1.0,1.2)" font-size="9.7" font-weight="bold" text-anchor="middle" fill="#000">2</text>
<line x1="417.98" y1="244.40" x2="417.98" y2="242.40" stroke="#222" stroke-width="1" />
<line x1="425.24" y1="244.40" x2="425.24" y2="242.40" stroke="#222" stroke-width="1" />
<line x1="432.49" y1="244.40" x2="432.49" y2="242.40" stroke="#222" stroke-width="1" />
<line x1="439.74" y1="244.40" x2="439.74" y2="242.40" stroke="#222" stroke-width="1" />
<line x1="446.99" y1="244.40" x2="446.99" y2="240.20" stroke="#222" stroke-width="1" />
<text transform="translate(446.99,257.60) scale(1.0,1.2)" font-size="9.7" font-weight="bold" text-anchor="middle" fill="#000">4</text>
<line x1="454.25" y1="244.40" x2="454.25" y2="242.40" stroke="#222" stroke-width="1" />
<line x1="461.50" y1="244.40" x2="461.50" y2="242.40" stroke="#222" stroke-width="1" />
<line x1="468.75" y1="244.40" x2="468.75" y2="242.40" stroke="#222" stroke-width="1" />
<line x1="476.00" y1="244.40" x2="476.00" y2="242.40" stroke="#222" stroke-width="1" />
<line x1="483.26" y1="244.40" x2="483.26" y2="240.20" stroke="#222" stroke-width="1" />
<text transform="translate(483.26,257.60) scale(1.0,1.2)" font-size="9.7" font-weight="bold" text-anchor="middle" fill="#000">6</text>
<line x1="490.51" y1="244.40" x2="490.51" y2="242.40" stroke="#222" stroke-width="1" />
<line x1="497.76" y1="244.40" x2="497.76" y2="242.40" stroke="#222" stroke-width="1" />
<line x1="505.01" y1="244.40" x2="505.01" y2="242.40" stroke="#222" stroke-width="1" />
<line x1="512.27" y1="244.40" x2="512.27" y2="242.40" stroke="#222" stroke-width="1" />
<line x1="519.52" y1="244.40" x2="519.52" y2="240.20" stroke="#222" stroke-width="1" />
<text transform="translate(519.52,257.60) scale(1.0,1.2)" font-size="9.7" font-weight="bold" text-anchor="middle" fill="#000">8</text>
<line x1="526.77" y1="244.40" x2="526.77" y2="242.40" stroke="#222" stroke-width="1" />
<line x1="534.02" y1="244.40" x2="534.02" y2="242.40" stroke="#222" stroke-width="1" />
<line x1="541.28" y1="244.40" x2="541.28" y2="242.40" stroke="#222" stroke-width="1" />
<line x1="548.53" y1="244.40" x2="548.53" y2="242.40" stroke="#222" stroke-width="1" />
<line x1="555.78" y1="244.40" x2="555.78" y2="240.20" stroke="#222" stroke-width="1" />
<text transform="translate(555.78,257.60) scale(1.0,1.2)" font-size="9.7" font-weight="bold" text-anchor="middle" fill="#000">10</text>
<line x1="563.03" y1="244.40" x2="563.03" y2="242.40" stroke="#222" stroke-width="1" />
<line x1="570.29" y1="244.40" x2="570.29" y2="242.40" stroke="#222" stroke-width="1" />
<line x1="577.54" y1="244.40" x2="577.54" y2="242.40" stroke="#222" stroke-width="1" />
<line x1="584.79" y1="244.40" x2="584.79" y2="242.40" stroke="#222" stroke-width="1" />
<line x1="592.04" y1="244.40" x2="592.04" y2="240.20" stroke="#222" stroke-width="1" />
<text transform="translate(592.04,257.60) scale(1.0,1.2)" font-size="9.7" font-weight="bold" text-anchor="middle" fill="#000">12</text>
<line x1="599.30" y1="244.40" x2="599.30" y2="242.40" stroke="#222" stroke-width="1" />
<line x1="606.55" y1="244.40" x2="606.55" y2="242.40" stroke="#222" stroke-width="1" />
<line x1="613.80" y1="244.40" x2="613.80" y2="242.40" stroke="#222" stroke-width="1" />
<line x1="621.05" y1="244.40" x2="621.05" y2="242.40" stroke="#222" stroke-width="1" />
<line x1="628.31" y1="244.40" x2="628.31" y2="240.20" stroke="#222" stroke-width="1" />
<text transform="translate(628.31,257.60) scale(1.0,1.2)" font-size="9.7" font-weight="bold" text-anchor="middle" fill="#000">14</text>
<line x1="635.56" y1="244.40" x2="635.56" y2="242.40" stroke="#222" stroke-width="1" />
<line x1="642.81" y1="244.40" x2="642.81" y2="242.40" stroke="#222" stroke-width="1" />
<line x1="650.06" y1="244.40" x2="650.06" y2="242.40" stroke="#222" stroke-width="1" />
<line x1="657.32" y1="244.40" x2="657.32" y2="242.40" stroke="#222" stroke-width="1" />
<line x1="664.57" y1="244.40" x2="664.57" y2="240.20" stroke="#222" stroke-width="1" />
<text transform="translate(664.57,257.60) scale(1.0,1.2)" font-size="9.7" font-weight="bold" text-anchor="middle" fill="#000">16</text>
<line x1="671.82" y1="244.40" x2="671.82" y2="242.40" stroke="#222" stroke-width="1" />
<line x1="679.07" y1="244.40" x2="679.07" y2="242.40" stroke="#222" stroke-width="1" />
<text transform="translate(369.40,127.00) rotate(-90)" font-size="12.2" font-weight="bold" text-anchor="middle" fill="#000">Cumulative probability</text>
<text x="537.80" y="276.20" font-size="12.0" font-weight="bold" text-anchor="middle" fill="#000" >Pit depth / µm</text>
<text transform="translate(346.00,16.40) scale(1.0,1.0)" font-size="21.0" font-weight="bold" text-anchor="start" fill="#000">(b)</text>
<rect x="603.70" y="154.40" width="5.40" height="5.40" fill="#e8692e"/>
<text x="621.50" y="160.90" font-size="10.9" font-weight="normal" text-anchor="start" fill="#222" >0 ppm BM</text>
<circle cx="606.40" cy="170.76" r="3.0" fill="#3d6f9c"/>
<text x="621.50" y="174.56" font-size="10.9" font-weight="normal" text-anchor="start" fill="#222" >0 ppm HAZ</text>
<path d="M606.40,181.02 L610.00,187.22 L602.80,187.22 Z" fill="#2f8540"/>
<text x="621.50" y="188.22" font-size="10.9" font-weight="normal" text-anchor="start" fill="#222" >0 ppm WZ</text>
<rect x="603.70" y="195.38" width="5.40" height="5.40" fill="#e8692e"/>
<rect x="606.70" y="196.18" width="1.60" height="3.80" fill="#fff"/>
<text x="621.50" y="201.88" font-size="10.9" font-weight="normal" text-anchor="start" fill="#222" >10 ppm BM</text>
<circle cx="606.40" cy="211.74" r="3.0" fill="#3d6f9c"/>
<path d="M606.70,209.64 A2.1,2.1 0 0 1 606.70,213.84 Z" fill="#fff"/>
<text x="621.50" y="215.54" font-size="10.9" font-weight="normal" text-anchor="start" fill="#222" >10 ppm HAZ</text>
<path d="M606.40,222.00 L610.00,228.20 L602.80,228.20 Z" fill="#2f8540"/>
<path d="M606.70,224.20 L608.50,227.40 L606.70,227.40 Z" fill="#fff"/>
<text x="621.50" y="229.20" font-size="10.9" font-weight="normal" text-anchor="start" fill="#222" >10 ppm WZ</text>
<rect x="48.0" y="293.4" width="290.7" height="233.80000000000007" fill="url(#gC)"/>
<line x1="81.30" y1="494.60" x2="128.50" y2="335.60" stroke="#3d6f9c" stroke-width="0.9" />
<line x1="94.40" y1="496.40" x2="109.70" y2="461.90" stroke="#3d6f9c" stroke-width="0.9" />
<line x1="109.70" y1="442.00" x2="162.20" y2="326.00" stroke="#3d6f9c" stroke-width="0.9" />
<line x1="174.90" y1="496.20" x2="185.50" y2="460.80" stroke="#e8692e" stroke-width="0.9" />
<line x1="199.70" y1="463.20" x2="237.30" y2="346.20" stroke="#e8692e" stroke-width="0.9" />
<line x1="184.10" y1="494.50" x2="191.20" y2="446.60" stroke="#2f8540" stroke-width="0.9" />
<line x1="199.70" y1="430.60" x2="233.80" y2="320.60" stroke="#2f8540" stroke-width="0.9" />
<line x1="198.30" y1="496.20" x2="225.60" y2="443.00" stroke="#2f8540" stroke-width="0.9" />
<line x1="240.90" y1="416.40" x2="278.80" y2="340.20" stroke="#2f8540" stroke-width="0.9" />
<line x1="200.80" y1="501.60" x2="255.80" y2="414.60" stroke="#e8692e" stroke-width="0.9" />
<line x1="275.30" y1="390.90" x2="301.90" y2="326.70" stroke="#e8692e" stroke-width="0.9" />
<circle cx="81.38" cy="494.71" r="3.0" fill="#3d6f9c"/>
<circle cx="85.13" cy="476.98" r="3.0" fill="#3d6f9c"/>
<circle cx="90.76" cy="462.87" r="3.0" fill="#3d6f9c"/>
<circle cx="94.89" cy="449.87" r="3.0" fill="#3d6f9c"/>
<circle cx="96.39" cy="436.92" r="3.0" fill="#3d6f9c"/>
<circle cx="100.51" cy="423.26" r="3.0" fill="#3d6f9c"/>
<circle cx="103.89" cy="408.01" r="3.0" fill="#3d6f9c"/>
<circle cx="113.27" cy="389.82" r="3.0" fill="#3d6f9c"/>
<circle cx="123.02" cy="365.82" r="3.0" fill="#3d6f9c"/>
<circle cx="128.27" cy="327.14" r="3.0" fill="#3d6f9c"/>
<circle cx="94.70" cy="494.71" r="3.0" fill="#3d6f9c"/>
<path d="M95.00,492.61 A2.1,2.1 0 0 1 95.00,496.81 Z" fill="#fff"/>
<circle cx="102.39" cy="476.98" r="3.0" fill="#3d6f9c"/>
<path d="M102.69,474.88 A2.1,2.1 0 0 1 102.69,479.08 Z" fill="#fff"/>
<circle cx="108.95" cy="462.87" r="3.0" fill="#3d6f9c"/>
<path d="M109.25,460.77 A2.1,2.1 0 0 1 109.25,464.97 Z" fill="#fff"/>
<circle cx="109.70" cy="449.87" r="3.0" fill="#3d6f9c"/>
<path d="M110.00,447.77 A2.1,2.1 0 0 1 110.00,451.97 Z" fill="#fff"/>
<circle cx="112.52" cy="436.92" r="3.0" fill="#3d6f9c"/>
<path d="M112.82,434.82 A2.1,2.1 0 0 1 112.82,439.02 Z" fill="#fff"/>
<circle cx="116.08" cy="423.26" r="3.0" fill="#3d6f9c"/>
<path d="M116.38,421.16 A2.1,2.1 0 0 1 116.38,425.36 Z" fill="#fff"/>
<circle cx="122.83" cy="408.01" r="3.0" fill="#3d6f9c"/>
<path d="M123.13,405.91 A2.1,2.1 0 0 1 123.13,410.11 Z" fill="#fff"/>
<circle cx="130.33" cy="389.82" r="3.0" fill="#3d6f9c"/>
<path d="M130.63,387.72 A2.1,2.1 0 0 1 130.63,391.92 Z" fill="#fff"/>
<circle cx="143.65" cy="365.82" r="3.0" fill="#3d6f9c"/>
<path d="M143.95,363.72 A2.1,2.1 0 0 1 143.95,367.92 Z" fill="#fff"/>
<circle cx="162.03" cy="327.14" r="3.0" fill="#3d6f9c"/>
<path d="M162.33,325.04 A2.1,2.1 0 0 1 162.33,329.24 Z" fill="#fff"/>
<rect x="172.65" y="492.01" width="5.40" height="5.40" fill="#e8692e"/>
<rect x="176.58" y="474.28" width="5.40" height="5.40" fill="#e8692e"/>
<rect x="182.21" y="460.17" width="5.40" height="5.40" fill="#e8692e"/>
<rect x="197.40" y="447.17" width="5.40" height="5.40" fill="#e8692e"/>
<rect x="210.53" y="434.22" width="5.40" height="5.40" fill="#e8692e"/>
<rect x="214.09" y="420.56" width="5.40" height="5.40" fill="#e8692e"/>
<rect x="215.78" y="405.31" width="5.40" height="5.40" fill="#e8692e"/>
<rect x="217.84" y="387.12" width="5.40" height="5.40" fill="#e8692e"/>
<rect x="233.22" y="363.12" width="5.40" height="5.40" fill="#e8692e"/>
<rect x="235.29" y="324.44" width="5.40" height="5.40" fill="#e8692e"/>
<path d="M185.10,491.31 L188.70,497.51 L181.50,497.51 Z" fill="#2f8540"/>
<path d="M186.97,473.58 L190.57,479.78 L183.37,479.78 Z" fill="#2f8540"/>
<path d="M188.85,459.47 L192.45,465.67 L185.25,465.67 Z" fill="#2f8540"/>
<path d="M190.72,446.47 L194.32,452.67 L187.12,452.67 Z" fill="#2f8540"/>
<path d="M200.66,433.52 L204.26,439.72 L197.06,439.72 Z" fill="#2f8540"/>
<path d="M203.85,419.86 L207.45,426.06 L200.25,426.06 Z" fill="#2f8540"/>
<path d="M207.79,404.61 L211.39,410.81 L204.19,410.81 Z" fill="#2f8540"/>
<path d="M211.35,386.42 L214.95,392.62 L207.75,392.62 Z" fill="#2f8540"/>
<path d="M217.17,362.42 L220.77,368.62 L213.57,368.62 Z" fill="#2f8540"/>
<path d="M233.86,323.74 L237.46,329.94 L230.26,329.94 Z" fill="#2f8540"/>
<rect x="198.15" y="492.01" width="5.40" height="5.40" fill="#e8692e"/>
<rect x="201.15" y="492.81" width="1.60" height="3.80" fill="#fff"/>
<rect x="214.47" y="474.28" width="5.40" height="5.40" fill="#e8692e"/>
<rect x="217.47" y="475.08" width="1.60" height="3.80" fill="#fff"/>
<rect x="227.41" y="460.17" width="5.40" height="5.40" fill="#e8692e"/>
<rect x="230.41" y="460.97" width="1.60" height="3.80" fill="#fff"/>
<rect x="230.04" y="447.17" width="5.40" height="5.40" fill="#e8692e"/>
<rect x="233.04" y="447.97" width="1.60" height="3.80" fill="#fff"/>
<rect x="240.35" y="434.22" width="5.40" height="5.40" fill="#e8692e"/>
<rect x="243.35" y="435.02" width="1.60" height="3.80" fill="#fff"/>
<rect x="248.23" y="420.56" width="5.40" height="5.40" fill="#e8692e"/>
<rect x="251.23" y="421.36" width="1.60" height="3.80" fill="#fff"/>
<rect x="253.48" y="405.31" width="5.40" height="5.40" fill="#e8692e"/>
<rect x="256.48" y="406.11" width="1.60" height="3.80" fill="#fff"/>
<rect x="274.30" y="387.12" width="5.40" height="5.40" fill="#e8692e"/>
<rect x="277.30" y="387.92" width="1.60" height="3.80" fill="#fff"/>
<rect x="285.55" y="363.12" width="5.40" height="5.40" fill="#e8692e"/>
<rect x="288.55" y="363.92" width="1.60" height="3.80" fill="#fff"/>
<rect x="299.80" y="324.44" width="5.40" height="5.40" fill="#e8692e"/>
<rect x="302.80" y="325.24" width="1.60" height="3.80" fill="#fff"/>
<path d="M197.66,491.31 L201.26,497.51 L194.06,497.51 Z" fill="#2f8540"/>
<path d="M197.96,493.51 L199.76,496.71 L197.96,496.71 Z" fill="#fff"/>
<path d="M209.29,473.58 L212.89,479.78 L205.69,479.78 Z" fill="#2f8540"/>
<path d="M209.59,475.78 L211.39,478.98 L209.59,478.98 Z" fill="#fff"/>
<path d="M220.73,459.47 L224.33,465.67 L217.13,465.67 Z" fill="#2f8540"/>
<path d="M221.03,461.67 L222.83,464.87 L221.03,464.87 Z" fill="#fff"/>
<path d="M224.67,446.47 L228.27,452.67 L221.07,452.67 Z" fill="#2f8540"/>
<path d="M224.97,448.67 L226.77,451.87 L224.97,451.87 Z" fill="#fff"/>
<path d="M226.17,433.52 L229.77,439.72 L222.57,439.72 Z" fill="#2f8540"/>
<path d="M226.47,435.72 L228.27,438.92 L226.47,438.92 Z" fill="#fff"/>
<path d="M241.55,419.86 L245.15,426.06 L237.95,426.06 Z" fill="#2f8540"/>
<path d="M241.85,422.06 L243.65,425.26 L241.85,425.26 Z" fill="#fff"/>
<path d="M243.43,404.61 L247.03,410.81 L239.83,410.81 Z" fill="#2f8540"/>
<path d="M243.73,406.81 L245.53,410.01 L243.73,410.01 Z" fill="#fff"/>
<path d="M250.93,386.42 L254.53,392.62 L247.33,392.62 Z" fill="#2f8540"/>
<path d="M251.23,388.62 L253.03,391.82 L251.23,391.82 Z" fill="#fff"/>
<path d="M274.37,362.42 L277.97,368.62 L270.77,368.62 Z" fill="#2f8540"/>
<path d="M274.67,364.62 L276.47,367.82 L274.67,367.82 Z" fill="#fff"/>
<path d="M279.06,323.74 L282.66,329.94 L275.46,329.94 Z" fill="#2f8540"/>
<path d="M279.36,325.94 L281.16,329.14 L279.36,329.14 Z" fill="#fff"/>
<rect x="48.0" y="293.4" width="290.7" height="233.80000000000007" fill="none" stroke="#3a3a3a" stroke-width="1.3"/>
<line x1="48.00" y1="522.00" x2="50.00" y2="522.00" stroke="#222" stroke-width="1" />
<line x1="48.00" y1="511.61" x2="50.00" y2="511.61" stroke="#222" stroke-width="1" />
<line x1="48.00" y1="501.22" x2="52.20" y2="501.22" stroke="#222" stroke-width="1" />
<text transform="translate(43.20,505.02) scale(1.0,1.15)" font-size="10.2" font-weight="bold" text-anchor="end" fill="#000">-1</text>
<line x1="48.00" y1="490.83" x2="50.00" y2="490.83" stroke="#222" stroke-width="1" />
<line x1="48.00" y1="480.44" x2="50.00" y2="480.44" stroke="#222" stroke-width="1" />
<line x1="48.00" y1="470.05" x2="50.00" y2="470.05" stroke="#222" stroke-width="1" />
<line x1="48.00" y1="459.66" x2="50.00" y2="459.66" stroke="#222" stroke-width="1" />
<line x1="48.00" y1="449.27" x2="52.20" y2="449.27" stroke="#222" stroke-width="1" />
<text transform="translate(43.20,453.07) scale(1.0,1.15)" font-size="10.2" font-weight="bold" text-anchor="end" fill="#000">0</text>
<line x1="48.00" y1="438.88" x2="50.00" y2="438.88" stroke="#222" stroke-width="1" />
<line x1="48.00" y1="428.48" x2="50.00" y2="428.48" stroke="#222" stroke-width="1" />
<line x1="48.00" y1="418.09" x2="50.00" y2="418.09" stroke="#222" stroke-width="1" />
<line x1="48.00" y1="407.70" x2="50.00" y2="407.70" stroke="#222" stroke-width="1" />
<line x1="48.00" y1="397.31" x2="52.20" y2="397.31" stroke="#222" stroke-width="1" />
<text transform="translate(43.20,401.11) scale(1.0,1.15)" font-size="10.2" font-weight="bold" text-anchor="end" fill="#000">1</text>
<line x1="48.00" y1="386.92" x2="50.00" y2="386.92" stroke="#222" stroke-width="1" />
<line x1="48.00" y1="376.53" x2="50.00" y2="376.53" stroke="#222" stroke-width="1" />
<line x1="48.00" y1="366.14" x2="50.00" y2="366.14" stroke="#222" stroke-width="1" />
<line x1="48.00" y1="355.75" x2="50.00" y2="355.75" stroke="#222" stroke-width="1" />
<line x1="48.00" y1="345.36" x2="52.20" y2="345.36" stroke="#222" stroke-width="1" />
<text transform="translate(43.20,349.16) scale(1.0,1.15)" font-size="10.2" font-weight="bold" text-anchor="end" fill="#000">2</text>
<line x1="48.00" y1="334.96" x2="50.00" y2="334.96" stroke="#222" stroke-width="1" />
<line x1="48.00" y1="324.57" x2="50.00" y2="324.57" stroke="#222" stroke-width="1" />
<line x1="48.00" y1="314.18" x2="50.00" y2="314.18" stroke="#222" stroke-width="1" />
<line x1="48.00" y1="303.79" x2="50.00" y2="303.79" stroke="#222" stroke-width="1" />
<line x1="48.00" y1="293.40" x2="52.20" y2="293.40" stroke="#222" stroke-width="1" />
<text transform="translate(43.20,297.20) scale(1.0,1.15)" font-size="10.2" font-weight="bold" text-anchor="end" fill="#000">3</text>
<line x1="53.63" y1="527.20" x2="53.63" y2="525.20" stroke="#222" stroke-width="1" />
<line x1="64.88" y1="527.20" x2="64.88" y2="525.20" stroke="#222" stroke-width="1" />
<line x1="76.13" y1="527.20" x2="76.13" y2="523.00" stroke="#222" stroke-width="1" />
<text transform="translate(76.13,540.60) scale(1.0,1.15)" font-size="10.2" font-weight="bold" text-anchor="middle" fill="#000">3</text>
<line x1="87.39" y1="527.20" x2="87.39" y2="525.20" stroke="#222" stroke-width="1" />
<line x1="98.64" y1="527.20" x2="98.64" y2="525.20" stroke="#222" stroke-width="1" />
<line x1="109.89" y1="527.20" x2="109.89" y2="525.20" stroke="#222" stroke-width="1" />
<line x1="121.14" y1="527.20" x2="121.14" y2="525.20" stroke="#222" stroke-width="1" />
<line x1="132.40" y1="527.20" x2="132.40" y2="523.00" stroke="#222" stroke-width="1" />
<text transform="translate(132.40,540.60) scale(1.0,1.15)" font-size="10.2" font-weight="bold" text-anchor="middle" fill="#000">6</text>
<line x1="143.65" y1="527.20" x2="143.65" y2="525.20" stroke="#222" stroke-width="1" />
<line x1="154.90" y1="527.20" x2="154.90" y2="525.20" stroke="#222" stroke-width="1" />
<line x1="166.16" y1="527.20" x2="166.16" y2="525.20" stroke="#222" stroke-width="1" />
<line x1="177.41" y1="527.20" x2="177.41" y2="525.20" stroke="#222" stroke-width="1" />
<line x1="188.66" y1="527.20" x2="188.66" y2="523.00" stroke="#222" stroke-width="1" />
<text transform="translate(188.66,540.60) scale(1.0,1.15)" font-size="10.2" font-weight="bold" text-anchor="middle" fill="#000">9</text>
<line x1="199.91" y1="527.20" x2="199.91" y2="525.20" stroke="#222" stroke-width="1" />
<line x1="211.17" y1="527.20" x2="211.17" y2="525.20" stroke="#222" stroke-width="1" />
<line x1="222.42" y1="527.20" x2="222.42" y2="525.20" stroke="#222" stroke-width="1" />
<line x1="233.67" y1="527.20" x2="233.67" y2="525.20" stroke="#222" stroke-width="1" />
<line x1="244.93" y1="527.20" x2="244.93" y2="523.00" stroke="#222" stroke-width="1" />
<text transform="translate(244.93,540.60) scale(1.0,1.15)" font-size="10.2" font-weight="bold" text-anchor="middle" fill="#000">12</text>
<line x1="256.18" y1="527.20" x2="256.18" y2="525.20" stroke="#222" stroke-width="1" />
<line x1="267.43" y1="527.20" x2="267.43" y2="525.20" stroke="#222" stroke-width="1" />
<line x1="278.68" y1="527.20" x2="278.68" y2="525.20" stroke="#222" stroke-width="1" />
<line x1="289.94" y1="527.20" x2="289.94" y2="525.20" stroke="#222" stroke-width="1" />
<line x1="301.19" y1="527.20" x2="301.19" y2="523.00" stroke="#222" stroke-width="1" />
<text transform="translate(301.19,540.60) scale(1.0,1.15)" font-size="10.2" font-weight="bold" text-anchor="middle" fill="#000">15</text>
<line x1="312.44" y1="527.20" x2="312.44" y2="525.20" stroke="#222" stroke-width="1" />
<line x1="323.70" y1="527.20" x2="323.70" y2="525.20" stroke="#222" stroke-width="1" />
<line x1="334.95" y1="527.20" x2="334.95" y2="525.20" stroke="#222" stroke-width="1" />
<text transform="translate(29.60,408.50) rotate(-90)" font-size="12.5" font-weight="bold" text-anchor="middle" fill="#000">Reduced variation (<tspan font-style="italic">Y</tspan>)</text>
<text x="193.40" y="560.20" font-size="12.0" font-weight="bold" text-anchor="middle" fill="#000" >Pit depth / µm</text>
<text transform="translate(2.00,296.00) scale(1.0,1.0)" font-size="21.0" font-weight="bold" text-anchor="start" fill="#000">(c)</text>
<rect x="261.20" y="440.90" width="5.40" height="5.40" fill="#e8692e"/>
<text x="278.30" y="447.10" font-size="9.9" font-weight="normal" text-anchor="start" fill="#222" >0 ppm BM</text>
<circle cx="263.90" cy="455.88" r="3.0" fill="#3d6f9c"/>
<text x="278.30" y="459.38" font-size="9.9" font-weight="normal" text-anchor="start" fill="#222" >0 ppm HAZ</text>
<path d="M263.90,464.76 L267.50,470.96 L260.30,470.96 Z" fill="#2f8540"/>
<text x="278.30" y="471.66" font-size="9.9" font-weight="normal" text-anchor="start" fill="#222" >0 ppm WZ</text>
<rect x="261.20" y="477.74" width="5.40" height="5.40" fill="#e8692e"/>
<rect x="264.20" y="478.54" width="1.60" height="3.80" fill="#fff"/>
<text x="278.30" y="483.94" font-size="9.9" font-weight="normal" text-anchor="start" fill="#222" >10 ppm BM</text>
<circle cx="263.90" cy="492.72" r="3.0" fill="#3d6f9c"/>
<path d="M264.20,490.62 A2.1,2.1 0 0 1 264.20,494.82 Z" fill="#fff"/>
<text x="278.30" y="496.22" font-size="9.9" font-weight="normal" text-anchor="start" fill="#222" >10 ppm HAZ</text>
<path d="M263.90,501.60 L267.50,507.80 L260.30,507.80 Z" fill="#2f8540"/>
<path d="M264.20,503.80 L266.00,507.00 L264.20,507.00 Z" fill="#fff"/>
<text x="278.30" y="508.50" font-size="9.9" font-weight="normal" text-anchor="start" fill="#222" >10 ppm WZ</text>
<rect x="392.6" y="293.3" width="291.0" height="233.99999999999994" fill="url(#gD)"/>
<polyline points="418.10,321.30 423.40,322.30 428.70,323.80 434.00,325.50 439.40,327.70 444.70,330.90 450.40,335.10 455.70,341.10 461.10,349.40 466.40,360.60 471.70,376.00 477.00,397.40 482.10,426.90 487.30,467.40" fill="none" stroke="#3d6f9c" stroke-width="0.9"/>
<polyline points="418.39,321.10 423.68,321.51 428.97,322.09 434.27,322.89 439.56,324.00 444.70,325.10 450.40,327.70 455.70,330.90 461.10,334.70 466.40,340.90 471.70,348.90 477.00,359.60 482.30,374.90 487.70,395.70 492.80,424.20 498.20,463.80" fill="none" stroke="#3d6f9c" stroke-width="0.9"/>
<polyline points="418.39,320.01 423.68,320.01 428.97,320.01 434.27,320.02 439.56,320.03 444.85,320.04 450.14,320.05 455.43,320.07 460.72,320.10 466.01,320.14 471.30,320.20 476.59,320.28 481.88,320.39 487.17,320.54 492.46,320.76 497.75,321.07 503.05,321.51 508.34,322.11 513.63,322.97 520.30,324.60 534.90,331.60 548.40,347.30 561.30,383.50 574.40,466.00" fill="none" stroke="#e8692e" stroke-width="0.9"/>
<polyline points="418.39,320.01 423.68,320.01 428.97,320.01 434.27,320.02 439.56,320.02 444.85,320.04 450.14,320.05 455.43,320.08 460.72,320.11 466.01,320.16 471.30,320.23 476.59,320.34 481.88,320.49 487.17,320.72 492.46,321.04 497.75,321.51 503.05,322.20 508.34,323.19 513.90,324.00 520.30,327.50 535.10,341.90 548.50,374.70 561.60,455.90" fill="none" stroke="#2f8540" stroke-width="0.9"/>
<polyline points="418.39,320.01 423.68,320.01 428.97,320.02 434.27,320.02 439.56,320.02 444.85,320.03 450.14,320.04 455.43,320.05 460.72,320.06 466.01,320.07 471.30,320.09 476.59,320.11 481.88,320.14 487.17,320.18 492.46,320.22 497.75,320.27 503.05,320.34 508.34,320.42 513.63,320.52 518.92,320.65 524.21,320.81 534.90,321.00 547.70,321.60 561.00,323.40 574.20,326.40 588.10,331.00 601.20,339.80 614.50,353.90 627.90,377.80 640.70,418.50 654.10,487.80" fill="none" stroke="#e8692e" stroke-width="0.9"/>
<polyline points="418.39,320.01 423.68,320.01 428.97,320.01 434.27,320.01 439.56,320.02 444.85,320.02 450.14,320.03 455.43,320.04 460.72,320.05 466.01,320.06 471.30,320.08 476.59,320.10 481.88,320.13 487.17,320.17 492.46,320.21 497.75,320.28 503.05,320.36 508.34,320.46 513.63,320.60 518.92,320.77 524.21,321.00 534.90,321.30 547.70,322.60 561.10,325.60 574.70,332.10 588.10,343.10 601.20,363.20 614.50,401.00 627.70,470.60" fill="none" stroke="#2f8540" stroke-width="0.9"/>
<circle cx="418.10" cy="321.30" r="3.0" fill="#3d6f9c"/>
<circle cx="423.40" cy="322.30" r="3.0" fill="#3d6f9c"/>
<circle cx="428.70" cy="323.80" r="3.0" fill="#3d6f9c"/>
<circle cx="434.00" cy="325.50" r="3.0" fill="#3d6f9c"/>
<circle cx="439.40" cy="327.70" r="3.0" fill="#3d6f9c"/>
<circle cx="444.70" cy="330.90" r="3.0" fill="#3d6f9c"/>
<circle cx="450.40" cy="335.10" r="3.0" fill="#3d6f9c"/>
<circle cx="455.70" cy="341.10" r="3.0" fill="#3d6f9c"/>
<circle cx="461.10" cy="349.40" r="3.0" fill="#3d6f9c"/>
<circle cx="466.40" cy="360.60" r="3.0" fill="#3d6f9c"/>
<circle cx="471.70" cy="376.00" r="3.0" fill="#3d6f9c"/>
<circle cx="477.00" cy="397.40" r="3.0" fill="#3d6f9c"/>
<circle cx="482.10" cy="426.90" r="3.0" fill="#3d6f9c"/>
<circle cx="487.30" cy="467.40" r="3.0" fill="#3d6f9c"/>
<circle cx="418.39" cy="321.10" r="3.0" fill="#3d6f9c"/>
<path d="M418.69,319.00 A2.1,2.1 0 0 1 418.69,323.20 Z" fill="#fff"/>
<circle cx="423.68" cy="321.51" r="3.0" fill="#3d6f9c"/>
<path d="M423.98,319.41 A2.1,2.1 0 0 1 423.98,323.61 Z" fill="#fff"/>
<circle cx="428.97" cy="322.09" r="3.0" fill="#3d6f9c"/>
<path d="M429.27,319.99 A2.1,2.1 0 0 1 429.27,324.19 Z" fill="#fff"/>
<circle cx="434.27" cy="322.89" r="3.0" fill="#3d6f9c"/>
<path d="M434.57,320.79 A2.1,2.1 0 0 1 434.57,324.99 Z" fill="#fff"/>
<circle cx="439.56" cy="324.00" r="3.0" fill="#3d6f9c"/>
<path d="M439.86,321.90 A2.1,2.1 0 0 1 439.86,326.10 Z" fill="#fff"/>
<circle cx="444.70" cy="325.10" r="3.0" fill="#3d6f9c"/>
<path d="M445.00,323.00 A2.1,2.1 0 0 1 445.00,327.20 Z" fill="#fff"/>
<circle cx="450.40" cy="327.70" r="3.0" fill="#3d6f9c"/>
<path d="M450.70,325.60 A2.1,2.1 0 0 1 450.70,329.80 Z" fill="#fff"/>
<circle cx="455.70" cy="330.90" r="3.0" fill="#3d6f9c"/>
<path d="M456.00,328.80 A2.1,2.1 0 0 1 456.00,333.00 Z" fill="#fff"/>
<circle cx="461.10" cy="334.70" r="3.0" fill="#3d6f9c"/>
<path d="M461.40,332.60 A2.1,2.1 0 0 1 461.40,336.80 Z" fill="#fff"/>
<circle cx="466.40" cy="340.90" r="3.0" fill="#3d6f9c"/>
<path d="M466.70,338.80 A2.1,2.1 0 0 1 466.70,343.00 Z" fill="#fff"/>
<circle cx="471.70" cy="348.90" r="3.0" fill="#3d6f9c"/>
<path d="M472.00,346.80 A2.1,2.1 0 0 1 472.00,351.00 Z" fill="#fff"/>
<circle cx="477.00" cy="359.60" r="3.0" fill="#3d6f9c"/>
<path d="M477.30,357.50 A2.1,2.1 0 0 1 477.30,361.70 Z" fill="#fff"/>
<circle cx="482.30" cy="374.90" r="3.0" fill="#3d6f9c"/>
<path d="M482.60,372.80 A2.1,2.1 0 0 1 482.60,377.00 Z" fill="#fff"/>
<circle cx="487.70" cy="395.70" r="3.0" fill="#3d6f9c"/>
<path d="M488.00,393.60 A2.1,2.1 0 0 1 488.00,397.80 Z" fill="#fff"/>
<circle cx="492.80" cy="424.20" r="3.0" fill="#3d6f9c"/>
<path d="M493.10,422.10 A2.1,2.1 0 0 1 493.10,426.30 Z" fill="#fff"/>
<circle cx="498.20" cy="463.80" r="3.0" fill="#3d6f9c"/>
<path d="M498.50,461.70 A2.1,2.1 0 0 1 498.50,465.90 Z" fill="#fff"/>
<rect x="415.69" y="317.31" width="5.40" height="5.40" fill="#e8692e"/>
<rect x="420.98" y="317.31" width="5.40" height="5.40" fill="#e8692e"/>
<rect x="426.27" y="317.31" width="5.40" height="5.40" fill="#e8692e"/>
<rect x="431.57" y="317.32" width="5.40" height="5.40" fill="#e8692e"/>
<rect x="436.86" y="317.33" width="5.40" height="5.40" fill="#e8692e"/>
<rect x="442.15" y="317.34" width="5.40" height="5.40" fill="#e8692e"/>
<rect x="447.44" y="317.35" width="5.40" height="5.40" fill="#e8692e"/>
<rect x="452.73" y="317.37" width="5.40" height="5.40" fill="#e8692e"/>
<rect x="458.02" y="317.40" width="5.40" height="5.40" fill="#e8692e"/>
<rect x="463.31" y="317.44" width="5.40" height="5.40" fill="#e8692e"/>
<rect x="468.60" y="317.50" width="5.40" height="5.40" fill="#e8692e"/>
<rect x="473.89" y="317.58" width="5.40" height="5.40" fill="#e8692e"/>
<rect x="479.18" y="317.69" width="5.40" height="5.40" fill="#e8692e"/>
<rect x="484.47" y="317.84" width="5.40" height="5.40" fill="#e8692e"/>
<rect x="489.76" y="318.06" width="5.40" height="5.40" fill="#e8692e"/>
<rect x="495.05" y="318.37" width="5.40" height="5.40" fill="#e8692e"/>
<rect x="500.35" y="318.81" width="5.40" height="5.40" fill="#e8692e"/>
<rect x="505.64" y="319.41" width="5.40" height="5.40" fill="#e8692e"/>
<rect x="510.93" y="320.27" width="5.40" height="5.40" fill="#e8692e"/>
<rect x="517.60" y="321.90" width="5.40" height="5.40" fill="#e8692e"/>
<rect x="532.20" y="328.90" width="5.40" height="5.40" fill="#e8692e"/>
<rect x="545.70" y="344.60" width="5.40" height="5.40" fill="#e8692e"/>
<rect x="558.60" y="380.80" width="5.40" height="5.40" fill="#e8692e"/>
<rect x="571.70" y="463.30" width="5.40" height="5.40" fill="#e8692e"/>
<path d="M418.39,316.61 L421.99,322.81 L414.79,322.81 Z" fill="#2f8540"/>
<path d="M423.68,316.61 L427.28,322.81 L420.08,322.81 Z" fill="#2f8540"/>
<path d="M428.97,316.61 L432.57,322.81 L425.37,322.81 Z" fill="#2f8540"/>
<path d="M434.27,316.62 L437.87,322.82 L430.67,322.82 Z" fill="#2f8540"/>
<path d="M439.56,316.62 L443.16,322.82 L435.96,322.82 Z" fill="#2f8540"/>
<path d="M444.85,316.64 L448.45,322.84 L441.25,322.84 Z" fill="#2f8540"/>
<path d="M450.14,316.65 L453.74,322.85 L446.54,322.85 Z" fill="#2f8540"/>
<path d="M455.43,316.68 L459.03,322.88 L451.83,322.88 Z" fill="#2f8540"/>
<path d="M460.72,316.71 L464.32,322.91 L457.12,322.91 Z" fill="#2f8540"/>
<path d="M466.01,316.76 L469.61,322.96 L462.41,322.96 Z" fill="#2f8540"/>
<path d="M471.30,316.83 L474.90,323.03 L467.70,323.03 Z" fill="#2f8540"/>
<path d="M476.59,316.94 L480.19,323.14 L472.99,323.14 Z" fill="#2f8540"/>
<path d="M481.88,317.09 L485.48,323.29 L478.28,323.29 Z" fill="#2f8540"/>
<path d="M487.17,317.32 L490.77,323.52 L483.57,323.52 Z" fill="#2f8540"/>
<path d="M492.46,317.64 L496.06,323.84 L488.86,323.84 Z" fill="#2f8540"/>
<path d="M497.75,318.11 L501.35,324.31 L494.15,324.31 Z" fill="#2f8540"/>
<path d="M503.05,318.80 L506.65,325.00 L499.45,325.00 Z" fill="#2f8540"/>
<path d="M508.34,319.79 L511.94,325.99 L504.74,325.99 Z" fill="#2f8540"/>
<path d="M513.90,320.60 L517.50,326.80 L510.30,326.80 Z" fill="#2f8540"/>
<path d="M520.30,324.10 L523.90,330.30 L516.70,330.30 Z" fill="#2f8540"/>
<path d="M535.10,338.50 L538.70,344.70 L531.50,344.70 Z" fill="#2f8540"/>
<path d="M548.50,371.30 L552.10,377.50 L544.90,377.50 Z" fill="#2f8540"/>
<path d="M561.60,452.50 L565.20,458.70 L558.00,458.70 Z" fill="#2f8540"/>
<rect x="415.69" y="317.31" width="5.40" height="5.40" fill="#e8692e"/>
<rect x="418.69" y="318.11" width="1.60" height="3.80" fill="#fff"/>
<rect x="420.98" y="317.31" width="5.40" height="5.40" fill="#e8692e"/>
<rect x="423.98" y="318.11" width="1.60" height="3.80" fill="#fff"/>
<rect x="426.27" y="317.32" width="5.40" height="5.40" fill="#e8692e"/>
<rect x="429.27" y="318.12" width="1.60" height="3.80" fill="#fff"/>
<rect x="431.57" y="317.32" width="5.40" height="5.40" fill="#e8692e"/>
<rect x="434.57" y="318.12" width="1.60" height="3.80" fill="#fff"/>
<rect x="436.86" y="317.32" width="5.40" height="5.40" fill="#e8692e"/>
<rect x="439.86" y="318.12" width="1.60" height="3.80" fill="#fff"/>
<rect x="442.15" y="317.33" width="5.40" height="5.40" fill="#e8692e"/>
<rect x="445.15" y="318.13" width="1.60" height="3.80" fill="#fff"/>
<rect x="447.44" y="317.34" width="5.40" height="5.40" fill="#e8692e"/>
<rect x="450.44" y="318.14" width="1.60" height="3.80" fill="#fff"/>
<rect x="452.73" y="317.35" width="5.40" height="5.40" fill="#e8692e"/>
<rect x="455.73" y="318.15" width="1.60" height="3.80" fill="#fff"/>
<rect x="458.02" y="317.36" width="5.40" height="5.40" fill="#e8692e"/>
<rect x="461.02" y="318.16" width="1.60" height="3.80" fill="#fff"/>
<rect x="463.31" y="317.37" width="5.40" height="5.40" fill="#e8692e"/>
<rect x="466.31" y="318.17" width="1.60" height="3.80" fill="#fff"/>
<rect x="468.60" y="317.39" width="5.40" height="5.40" fill="#e8692e"/>
<rect x="471.60" y="318.19" width="1.60" height="3.80" fill="#fff"/>
<rect x="473.89" y="317.41" width="5.40" height="5.40" fill="#e8692e"/>
<rect x="476.89" y="318.21" width="1.60" height="3.80" fill="#fff"/>
<rect x="479.18" y="317.44" width="5.40" height="5.40" fill="#e8692e"/>
<rect x="482.18" y="318.24" width="1.60" height="3.80" fill="#fff"/>
<rect x="484.47" y="317.48" width="5.40" height="5.40" fill="#e8692e"/>
<rect x="487.47" y="318.28" width="1.60" height="3.80" fill="#fff"/>
<rect x="489.76" y="317.52" width="5.40" height="5.40" fill="#e8692e"/>
<rect x="492.76" y="318.32" width="1.60" height="3.80" fill="#fff"/>
<rect x="495.05" y="317.57" width="5.40" height="5.40" fill="#e8692e"/>
<rect x="498.05" y="318.37" width="1.60" height="3.80" fill="#fff"/>
<rect x="500.35" y="317.64" width="5.40" height="5.40" fill="#e8692e"/>
<rect x="503.35" y="318.44" width="1.60" height="3.80" fill="#fff"/>
<rect x="505.64" y="317.72" width="5.40" height="5.40" fill="#e8692e"/>
<rect x="508.64" y="318.52" width="1.60" height="3.80" fill="#fff"/>
<rect x="510.93" y="317.82" width="5.40" height="5.40" fill="#e8692e"/>
<rect x="513.93" y="318.62" width="1.60" height="3.80" fill="#fff"/>
<rect x="516.22" y="317.95" width="5.40" height="5.40" fill="#e8692e"/>
<rect x="519.22" y="318.75" width="1.60" height="3.80" fill="#fff"/>
<rect x="521.51" y="318.11" width="5.40" height="5.40" fill="#e8692e"/>
<rect x="524.51" y="318.91" width="1.60" height="3.80" fill="#fff"/>
<rect x="532.20" y="318.30" width="5.40" height="5.40" fill="#e8692e"/>
<rect x="535.20" y="319.10" width="1.60" height="3.80" fill="#fff"/>
<rect x="545.00" y="318.90" width="5.40" height="5.40" fill="#e8692e"/>
<rect x="548.00" y="319.70" width="1.60" height="3.80" fill="#fff"/>
<rect x="558.30" y="320.70" width="5.40" height="5.40" fill="#e8692e"/>
<rect x="561.30" y="321.50" width="1.60" height="3.80" fill="#fff"/>
<rect x="571.50" y="323.70" width="5.40" height="5.40" fill="#e8692e"/>
<rect x="574.50" y="324.50" width="1.60" height="3.80" fill="#fff"/>
<rect x="585.40" y="328.30" width="5.40" height="5.40" fill="#e8692e"/>
<rect x="588.40" y="329.10" width="1.60" height="3.80" fill="#fff"/>
<rect x="598.50" y="337.10" width="5.40" height="5.40" fill="#e8692e"/>
<rect x="601.50" y="337.90" width="1.60" height="3.80" fill="#fff"/>
<rect x="611.80" y="351.20" width="5.40" height="5.40" fill="#e8692e"/>
<rect x="614.80" y="352.00" width="1.60" height="3.80" fill="#fff"/>
<rect x="625.20" y="375.10" width="5.40" height="5.40" fill="#e8692e"/>
<rect x="628.20" y="375.90" width="1.60" height="3.80" fill="#fff"/>
<rect x="638.00" y="415.80" width="5.40" height="5.40" fill="#e8692e"/>
<rect x="641.00" y="416.60" width="1.60" height="3.80" fill="#fff"/>
<rect x="651.40" y="485.10" width="5.40" height="5.40" fill="#e8692e"/>
<rect x="654.40" y="485.90" width="1.60" height="3.80" fill="#fff"/>
<path d="M418.39,316.61 L421.99,322.81 L414.79,322.81 Z" fill="#2f8540"/>
<path d="M418.69,318.81 L420.49,322.01 L418.69,322.01 Z" fill="#fff"/>
<path d="M423.68,316.61 L427.28,322.81 L420.08,322.81 Z" fill="#2f8540"/>
<path d="M423.98,318.81 L425.78,322.01 L423.98,322.01 Z" fill="#fff"/>
<path d="M428.97,316.61 L432.57,322.81 L425.37,322.81 Z" fill="#2f8540"/>
<path d="M429.27,318.81 L431.07,322.01 L429.27,322.01 Z" fill="#fff"/>
<path d="M434.27,316.61 L437.87,322.81 L430.67,322.81 Z" fill="#2f8540"/>
<path d="M434.57,318.81 L436.37,322.01 L434.57,322.01 Z" fill="#fff"/>
<path d="M439.56,316.62 L443.16,322.82 L435.96,322.82 Z" fill="#2f8540"/>
<path d="M439.86,318.82 L441.66,322.02 L439.86,322.02 Z" fill="#fff"/>
<path d="M444.85,316.62 L448.45,322.82 L441.25,322.82 Z" fill="#2f8540"/>
<path d="M445.15,318.82 L446.95,322.02 L445.15,322.02 Z" fill="#fff"/>
<path d="M450.14,316.63 L453.74,322.83 L446.54,322.83 Z" fill="#2f8540"/>
<path d="M450.44,318.83 L452.24,322.03 L450.44,322.03 Z" fill="#fff"/>
<path d="M455.43,316.64 L459.03,322.84 L451.83,322.84 Z" fill="#2f8540"/>
<path d="M455.73,318.84 L457.53,322.04 L455.73,322.04 Z" fill="#fff"/>
<path d="M460.72,316.65 L464.32,322.85 L457.12,322.85 Z" fill="#2f8540"/>
<path d="M461.02,318.85 L462.82,322.05 L461.02,322.05 Z" fill="#fff"/>
<path d="M466.01,316.66 L469.61,322.86 L462.41,322.86 Z" fill="#2f8540"/>
<path d="M466.31,318.86 L468.11,322.06 L466.31,322.06 Z" fill="#fff"/>
<path d="M471.30,316.68 L474.90,322.88 L467.70,322.88 Z" fill="#2f8540"/>
<path d="M471.60,318.88 L473.40,322.08 L471.60,322.08 Z" fill="#fff"/>
<path d="M476.59,316.70 L480.19,322.90 L472.99,322.90 Z" fill="#2f8540"/>
<path d="M476.89,318.90 L478.69,322.10 L476.89,322.10 Z" fill="#fff"/>
<path d="M481.88,316.73 L485.48,322.93 L478.28,322.93 Z" fill="#2f8540"/>
<path d="M482.18,318.93 L483.98,322.13 L482.18,322.13 Z" fill="#fff"/>
<path d="M487.17,316.77 L490.77,322.97 L483.57,322.97 Z" fill="#2f8540"/>
<path d="M487.47,318.97 L489.27,322.17 L487.47,322.17 Z" fill="#fff"/>
<path d="M492.46,316.81 L496.06,323.01 L488.86,323.01 Z" fill="#2f8540"/>
<path d="M492.76,319.01 L494.56,322.21 L492.76,322.21 Z" fill="#fff"/>
<path d="M497.75,316.88 L501.35,323.08 L494.15,323.08 Z" fill="#2f8540"/>
<path d="M498.05,319.08 L499.85,322.28 L498.05,322.28 Z" fill="#fff"/>
<path d="M503.05,316.96 L506.65,323.16 L499.45,323.16 Z" fill="#2f8540"/>
<path d="M503.35,319.16 L505.15,322.36 L503.35,322.36 Z" fill="#fff"/>
<path d="M508.34,317.06 L511.94,323.26 L504.74,323.26 Z" fill="#2f8540"/>
<path d="M508.64,319.26 L510.44,322.46 L508.64,322.46 Z" fill="#fff"/>
<path d="M513.63,317.20 L517.23,323.40 L510.03,323.40 Z" fill="#2f8540"/>
<path d="M513.93,319.40 L515.73,322.60 L513.93,322.60 Z" fill="#fff"/>
<path d="M518.92,317.37 L522.52,323.57 L515.32,323.57 Z" fill="#2f8540"/>
<path d="M519.22,319.57 L521.02,322.77 L519.22,322.77 Z" fill="#fff"/>
<path d="M524.21,317.60 L527.81,323.80 L520.61,323.80 Z" fill="#2f8540"/>
<path d="M524.51,319.80 L526.31,323.00 L524.51,323.00 Z" fill="#fff"/>
<path d="M534.90,317.90 L538.50,324.10 L531.30,324.10 Z" fill="#2f8540"/>
<path d="M535.20,320.10 L537.00,323.30 L535.20,323.30 Z" fill="#fff"/>
<path d="M547.70,319.20 L551.30,325.40 L544.10,325.40 Z" fill="#2f8540"/>
<path d="M548.00,321.40 L549.80,324.60 L548.00,324.60 Z" fill="#fff"/>
<path d="M561.10,322.20 L564.70,328.40 L557.50,328.40 Z" fill="#2f8540"/>
<path d="M561.40,324.40 L563.20,327.60 L561.40,327.60 Z" fill="#fff"/>
<path d="M574.70,328.70 L578.30,334.90 L571.10,334.90 Z" fill="#2f8540"/>
<path d="M575.00,330.90 L576.80,334.10 L575.00,334.10 Z" fill="#fff"/>
<path d="M588.10,339.70 L591.70,345.90 L584.50,345.90 Z" fill="#2f8540"/>
<path d="M588.40,341.90 L590.20,345.10 L588.40,345.10 Z" fill="#fff"/>
<path d="M601.20,359.80 L604.80,366.00 L597.60,366.00 Z" fill="#2f8540"/>
<path d="M601.50,362.00 L603.30,365.20 L601.50,365.20 Z" fill="#fff"/>
<path d="M614.50,397.60 L618.10,403.80 L610.90,403.80 Z" fill="#2f8540"/>
<path d="M614.80,399.80 L616.60,403.00 L614.80,403.00 Z" fill="#fff"/>
<path d="M627.70,467.20 L631.30,473.40 L624.10,473.40 Z" fill="#2f8540"/>
<path d="M628.00,469.40 L629.80,472.60 L628.00,472.60 Z" fill="#fff"/>
<rect x="392.6" y="293.3" width="291.0" height="233.99999999999994" fill="none" stroke="#3a3a3a" stroke-width="1.3"/>
<line x1="392.60" y1="526.85" x2="397.10" y2="526.85" stroke="#222" stroke-width="1" />
<line x1="392.60" y1="517.95" x2="394.90" y2="517.95" stroke="#222" stroke-width="0.8" />
<line x1="392.60" y1="512.75" x2="394.90" y2="512.75" stroke="#222" stroke-width="0.8" />
<line x1="392.60" y1="509.06" x2="394.90" y2="509.06" stroke="#222" stroke-width="0.8" />
<line x1="392.60" y1="506.20" x2="394.90" y2="506.20" stroke="#222" stroke-width="0.8" />
<line x1="392.60" y1="503.86" x2="394.90" y2="503.86" stroke="#222" stroke-width="0.8" />
<line x1="392.60" y1="501.88" x2="394.90" y2="501.88" stroke="#222" stroke-width="0.8" />
<line x1="392.60" y1="500.16" x2="394.90" y2="500.16" stroke="#222" stroke-width="0.8" />
<line x1="392.60" y1="498.65" x2="394.90" y2="498.65" stroke="#222" stroke-width="0.8" />
<text transform="translate(381.60,530.65) scale(1.0,1.25)" font-size="9.0" font-weight="bold" text-anchor="end" fill="#000">10</text>
<text transform="translate(382.00,526.45) scale(1.0,1.1)" font-size="6.8" font-weight="bold" text-anchor="start" fill="#000">-7</text>
<line x1="392.60" y1="497.30" x2="397.10" y2="497.30" stroke="#222" stroke-width="1" />
<line x1="392.60" y1="488.40" x2="394.90" y2="488.40" stroke="#222" stroke-width="0.8" />
<line x1="392.60" y1="483.20" x2="394.90" y2="483.20" stroke="#222" stroke-width="0.8" />
<line x1="392.60" y1="479.51" x2="394.90" y2="479.51" stroke="#222" stroke-width="0.8" />
<line x1="392.60" y1="476.65" x2="394.90" y2="476.65" stroke="#222" stroke-width="0.8" />
<line x1="392.60" y1="474.31" x2="394.90" y2="474.31" stroke="#222" stroke-width="0.8" />
<line x1="392.60" y1="472.33" x2="394.90" y2="472.33" stroke="#222" stroke-width="0.8" />
<line x1="392.60" y1="470.61" x2="394.90" y2="470.61" stroke="#222" stroke-width="0.8" />
<line x1="392.60" y1="469.10" x2="394.90" y2="469.10" stroke="#222" stroke-width="0.8" />
<line x1="392.60" y1="467.75" x2="397.10" y2="467.75" stroke="#222" stroke-width="1" />
<line x1="392.60" y1="458.85" x2="394.90" y2="458.85" stroke="#222" stroke-width="0.8" />
<line x1="392.60" y1="453.65" x2="394.90" y2="453.65" stroke="#222" stroke-width="0.8" />
<line x1="392.60" y1="449.96" x2="394.90" y2="449.96" stroke="#222" stroke-width="0.8" />
<line x1="392.60" y1="447.10" x2="394.90" y2="447.10" stroke="#222" stroke-width="0.8" />
<line x1="392.60" y1="444.76" x2="394.90" y2="444.76" stroke="#222" stroke-width="0.8" />
<line x1="392.60" y1="442.78" x2="394.90" y2="442.78" stroke="#222" stroke-width="0.8" />
<line x1="392.60" y1="441.06" x2="394.90" y2="441.06" stroke="#222" stroke-width="0.8" />
<line x1="392.60" y1="439.55" x2="394.90" y2="439.55" stroke="#222" stroke-width="0.8" />
<text transform="translate(381.60,471.55) scale(1.0,1.25)" font-size="9.0" font-weight="bold" text-anchor="end" fill="#000">10</text>
<text transform="translate(382.00,467.35) scale(1.0,1.1)" font-size="6.8" font-weight="bold" text-anchor="start" fill="#000">-5</text>
<line x1="392.60" y1="438.20" x2="397.10" y2="438.20" stroke="#222" stroke-width="1" />
<line x1="392.60" y1="429.30" x2="394.90" y2="429.30" stroke="#222" stroke-width="0.8" />
<line x1="392.60" y1="424.10" x2="394.90" y2="424.10" stroke="#222" stroke-width="0.8" />
<line x1="392.60" y1="420.41" x2="394.90" y2="420.41" stroke="#222" stroke-width="0.8" />
<line x1="392.60" y1="417.55" x2="394.90" y2="417.55" stroke="#222" stroke-width="0.8" />
<line x1="392.60" y1="415.21" x2="394.90" y2="415.21" stroke="#222" stroke-width="0.8" />
<line x1="392.60" y1="413.23" x2="394.90" y2="413.23" stroke="#222" stroke-width="0.8" />
<line x1="392.60" y1="411.51" x2="394.90" y2="411.51" stroke="#222" stroke-width="0.8" />
<line x1="392.60" y1="410.00" x2="394.90" y2="410.00" stroke="#222" stroke-width="0.8" />
<line x1="392.60" y1="408.65" x2="397.10" y2="408.65" stroke="#222" stroke-width="1" />
<line x1="392.60" y1="399.75" x2="394.90" y2="399.75" stroke="#222" stroke-width="0.8" />
<line x1="392.60" y1="394.55" x2="394.90" y2="394.55" stroke="#222" stroke-width="0.8" />
<line x1="392.60" y1="390.86" x2="394.90" y2="390.86" stroke="#222" stroke-width="0.8" />
<line x1="392.60" y1="388.00" x2="394.90" y2="388.00" stroke="#222" stroke-width="0.8" />
<line x1="392.60" y1="385.66" x2="394.90" y2="385.66" stroke="#222" stroke-width="0.8" />
<line x1="392.60" y1="383.68" x2="394.90" y2="383.68" stroke="#222" stroke-width="0.8" />
<line x1="392.60" y1="381.96" x2="394.90" y2="381.96" stroke="#222" stroke-width="0.8" />
<line x1="392.60" y1="380.45" x2="394.90" y2="380.45" stroke="#222" stroke-width="0.8" />
<text transform="translate(381.60,412.45) scale(1.0,1.25)" font-size="9.0" font-weight="bold" text-anchor="end" fill="#000">10</text>
<text transform="translate(382.00,408.25) scale(1.0,1.1)" font-size="6.8" font-weight="bold" text-anchor="start" fill="#000">-3</text>
<line x1="392.60" y1="379.10" x2="397.10" y2="379.10" stroke="#222" stroke-width="1" />
<line x1="392.60" y1="370.20" x2="394.90" y2="370.20" stroke="#222" stroke-width="0.8" />
<line x1="392.60" y1="365.00" x2="394.90" y2="365.00" stroke="#222" stroke-width="0.8" />
<line x1="392.60" y1="361.31" x2="394.90" y2="361.31" stroke="#222" stroke-width="0.8" />
<line x1="392.60" y1="358.45" x2="394.90" y2="358.45" stroke="#222" stroke-width="0.8" />
<line x1="392.60" y1="356.11" x2="394.90" y2="356.11" stroke="#222" stroke-width="0.8" />
<line x1="392.60" y1="354.13" x2="394.90" y2="354.13" stroke="#222" stroke-width="0.8" />
<line x1="392.60" y1="352.41" x2="394.90" y2="352.41" stroke="#222" stroke-width="0.8" />
<line x1="392.60" y1="350.90" x2="394.90" y2="350.90" stroke="#222" stroke-width="0.8" />
<line x1="392.60" y1="349.55" x2="397.10" y2="349.55" stroke="#222" stroke-width="1" />
<line x1="392.60" y1="340.65" x2="394.90" y2="340.65" stroke="#222" stroke-width="0.8" />
<line x1="392.60" y1="335.45" x2="394.90" y2="335.45" stroke="#222" stroke-width="0.8" />
<line x1="392.60" y1="331.76" x2="394.90" y2="331.76" stroke="#222" stroke-width="0.8" />
<line x1="392.60" y1="328.90" x2="394.90" y2="328.90" stroke="#222" stroke-width="0.8" />
<line x1="392.60" y1="326.56" x2="394.90" y2="326.56" stroke="#222" stroke-width="0.8" />
<line x1="392.60" y1="324.58" x2="394.90" y2="324.58" stroke="#222" stroke-width="0.8" />
<line x1="392.60" y1="322.86" x2="394.90" y2="322.86" stroke="#222" stroke-width="0.8" />
<line x1="392.60" y1="321.35" x2="394.90" y2="321.35" stroke="#222" stroke-width="0.8" />
<text transform="translate(381.60,353.35) scale(1.0,1.25)" font-size="9.0" font-weight="bold" text-anchor="end" fill="#000">10</text>
<text transform="translate(382.00,349.15) scale(1.0,1.1)" font-size="6.8" font-weight="bold" text-anchor="start" fill="#000">-1</text>
<line x1="392.60" y1="320.00" x2="397.10" y2="320.00" stroke="#222" stroke-width="1" />
<line x1="392.60" y1="311.10" x2="394.90" y2="311.10" stroke="#222" stroke-width="0.8" />
<line x1="392.60" y1="305.90" x2="394.90" y2="305.90" stroke="#222" stroke-width="0.8" />
<line x1="392.60" y1="302.21" x2="394.90" y2="302.21" stroke="#222" stroke-width="0.8" />
<line x1="392.60" y1="299.35" x2="394.90" y2="299.35" stroke="#222" stroke-width="0.8" />
<line x1="392.60" y1="297.01" x2="394.90" y2="297.01" stroke="#222" stroke-width="0.8" />
<line x1="392.60" y1="295.03" x2="394.90" y2="295.03" stroke="#222" stroke-width="0.8" />
<line x1="392.60" y1="293.31" x2="394.90" y2="293.31" stroke="#222" stroke-width="0.8" />
<text transform="translate(392.60,540.60) scale(1.0,1.15)" font-size="10.2" font-weight="bold" text-anchor="middle" fill="#000">0</text>
<line x1="403.18" y1="527.30" x2="403.18" y2="525.30" stroke="#222" stroke-width="1" />
<line x1="413.76" y1="527.30" x2="413.76" y2="525.30" stroke="#222" stroke-width="1" />
<line x1="424.34" y1="527.30" x2="424.34" y2="525.30" stroke="#222" stroke-width="1" />
<line x1="434.93" y1="527.30" x2="434.93" y2="525.30" stroke="#222" stroke-width="1" />
<line x1="445.51" y1="527.30" x2="445.51" y2="523.10" stroke="#222" stroke-width="1" />
<text transform="translate(445.51,540.60) scale(1.0,1.15)" font-size="10.2" font-weight="bold" text-anchor="middle" fill="#000">4</text>
<line x1="456.09" y1="527.30" x2="456.09" y2="525.30" stroke="#222" stroke-width="1" />
<line x1="466.67" y1="527.30" x2="466.67" y2="525.30" stroke="#222" stroke-width="1" />
<line x1="477.25" y1="527.30" x2="477.25" y2="525.30" stroke="#222" stroke-width="1" />
<line x1="487.83" y1="527.30" x2="487.83" y2="525.30" stroke="#222" stroke-width="1" />
<line x1="498.42" y1="527.30" x2="498.42" y2="523.10" stroke="#222" stroke-width="1" />
<text transform="translate(498.42,540.60) scale(1.0,1.15)" font-size="10.2" font-weight="bold" text-anchor="middle" fill="#000">8</text>
<line x1="509.00" y1="527.30" x2="509.00" y2="525.30" stroke="#222" stroke-width="1" />
<line x1="519.58" y1="527.30" x2="519.58" y2="525.30" stroke="#222" stroke-width="1" />
<line x1="530.16" y1="527.30" x2="530.16" y2="525.30" stroke="#222" stroke-width="1" />
<line x1="540.74" y1="527.30" x2="540.74" y2="525.30" stroke="#222" stroke-width="1" />
<line x1="551.32" y1="527.30" x2="551.32" y2="523.10" stroke="#222" stroke-width="1" />
<text transform="translate(551.32,540.60) scale(1.0,1.15)" font-size="10.2" font-weight="bold" text-anchor="middle" fill="#000">12</text>
<line x1="561.91" y1="527.30" x2="561.91" y2="525.30" stroke="#222" stroke-width="1" />
<line x1="572.49" y1="527.30" x2="572.49" y2="525.30" stroke="#222" stroke-width="1" />
<line x1="583.07" y1="527.30" x2="583.07" y2="525.30" stroke="#222" stroke-width="1" />
<line x1="593.65" y1="527.30" x2="593.65" y2="525.30" stroke="#222" stroke-width="1" />
<line x1="604.23" y1="527.30" x2="604.23" y2="523.10" stroke="#222" stroke-width="1" />
<text transform="translate(604.23,540.60) scale(1.0,1.15)" font-size="10.2" font-weight="bold" text-anchor="middle" fill="#000">16</text>
<line x1="614.81" y1="527.30" x2="614.81" y2="525.30" stroke="#222" stroke-width="1" />
<line x1="625.40" y1="527.30" x2="625.40" y2="525.30" stroke="#222" stroke-width="1" />
<line x1="635.98" y1="527.30" x2="635.98" y2="525.30" stroke="#222" stroke-width="1" />
<line x1="646.56" y1="527.30" x2="646.56" y2="525.30" stroke="#222" stroke-width="1" />
<line x1="657.14" y1="527.30" x2="657.14" y2="523.10" stroke="#222" stroke-width="1" />
<text transform="translate(657.14,540.60) scale(1.0,1.15)" font-size="10.2" font-weight="bold" text-anchor="middle" fill="#000">20</text>
<line x1="667.72" y1="527.30" x2="667.72" y2="525.30" stroke="#222" stroke-width="1" />
<line x1="678.30" y1="527.30" x2="678.30" y2="525.30" stroke="#222" stroke-width="1" />
<text transform="translate(366.40,410.10) rotate(-90)" font-size="12.3" font-weight="bold" text-anchor="middle" fill="#000">Pit probability</text>
<text x="537.90" y="560.20" font-size="12.0" font-weight="bold" text-anchor="middle" fill="#000" >Pit depth / µm</text>
<text transform="translate(346.80,296.00) scale(1.0,1.0)" font-size="21.0" font-weight="bold" text-anchor="start" fill="#000">(d)</text>
<line x1="402.10" y1="450.40" x2="425.00" y2="450.40" stroke="#e8692e" stroke-width="0.8" stroke-opacity="0.75"/>
<rect x="410.90" y="447.70" width="5.40" height="5.40" fill="#e8692e"/>
<text x="427.50" y="453.90" font-size="9.9" font-weight="normal" text-anchor="start" fill="#222" >0 ppm BM</text>
<line x1="402.10" y1="462.80" x2="425.00" y2="462.80" stroke="#3d6f9c" stroke-width="0.8" stroke-opacity="0.75"/>
<circle cx="413.60" cy="462.80" r="3.0" fill="#3d6f9c"/>
<text x="427.50" y="466.30" font-size="9.9" font-weight="normal" text-anchor="start" fill="#222" >0 ppm HAZ</text>
<line x1="402.10" y1="475.20" x2="425.00" y2="475.20" stroke="#2f8540" stroke-width="0.8" stroke-opacity="0.75"/>
<path d="M413.60,471.80 L417.20,478.00 L410.00,478.00 Z" fill="#2f8540"/>
<text x="427.50" y="478.70" font-size="9.9" font-weight="normal" text-anchor="start" fill="#222" >0 ppm WZ</text>
<line x1="402.10" y1="487.60" x2="425.00" y2="487.60" stroke="#e8692e" stroke-width="0.8" stroke-opacity="0.75"/>
<rect x="410.90" y="484.90" width="5.40" height="5.40" fill="#e8692e"/>
<rect x="413.90" y="485.70" width="1.60" height="3.80" fill="#fff"/>
<text x="427.50" y="491.10" font-size="9.9" font-weight="normal" text-anchor="start" fill="#222" >10 ppm BM</text>
<line x1="402.10" y1="500.00" x2="425.00" y2="500.00" stroke="#3d6f9c" stroke-width="0.8" stroke-opacity="0.75"/>
<circle cx="413.60" cy="500.00" r="3.0" fill="#3d6f9c"/>
<path d="M413.90,497.90 A2.1,2.1 0 0 1 413.90,502.10 Z" fill="#fff"/>
<text x="427.50" y="503.50" font-size="9.9" font-weight="normal" text-anchor="start" fill="#222" >10 ppm HAZ</text>
<line x1="402.10" y1="512.40" x2="425.00" y2="512.40" stroke="#2f8540" stroke-width="0.8" stroke-opacity="0.75"/>
<path d="M413.60,509.00 L417.20,515.20 L410.00,515.20 Z" fill="#2f8540"/>
<path d="M413.90,511.20 L415.70,514.40 L413.90,514.40 Z" fill="#fff"/>
<text x="427.50" y="515.90" font-size="9.9" font-weight="normal" text-anchor="start" fill="#222" >10 ppm WZ</text>
</svg></body></html>
